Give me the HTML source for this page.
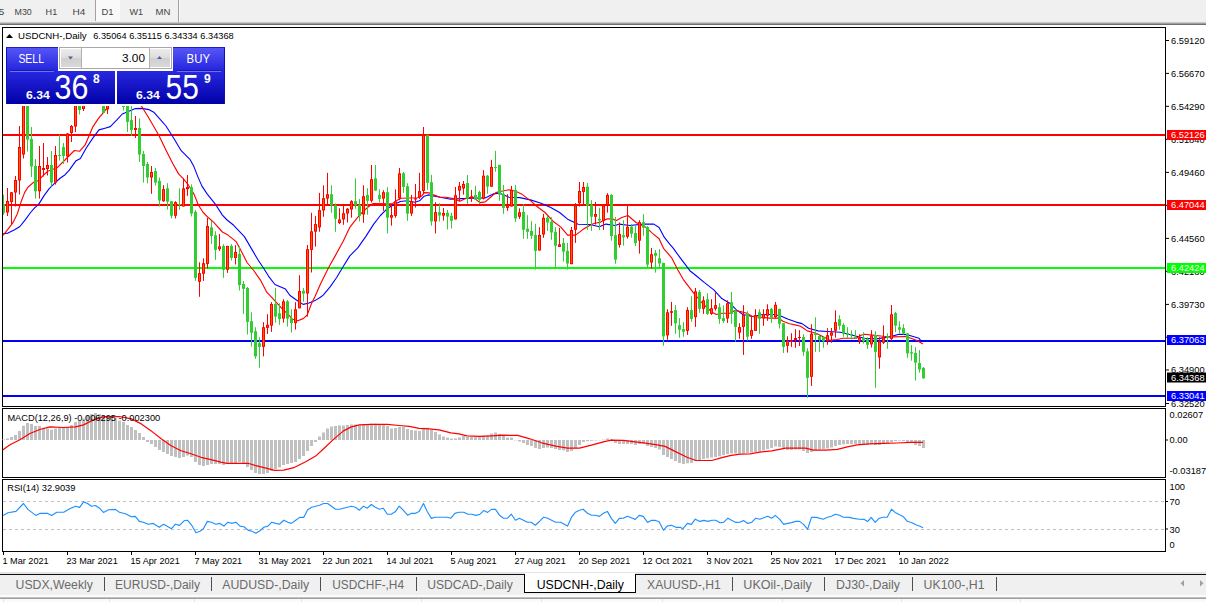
<!DOCTYPE html>
<html><head><meta charset="utf-8"><title>USDCNH-,Daily</title>
<style>html,body{margin:0;padding:0;background:#fff;overflow:hidden}svg text{white-space:pre}</style>
</head><body>
<svg width="1206" height="602" viewBox="0 0 1206 602" style="display:block">
<defs>
<linearGradient id="gTop" x1="0" y1="0" x2="0" y2="1"><stop offset="0" stop-color="#5858f8"/><stop offset="1" stop-color="#2222dc"/></linearGradient>
<linearGradient id="gBot" x1="0" y1="0" x2="0" y2="1"><stop offset="0" stop-color="#2828e0"/><stop offset="1" stop-color="#0000a8"/></linearGradient>
<linearGradient id="gBtn" x1="0" y1="0" x2="0" y2="1"><stop offset="0" stop-color="#ececec"/><stop offset="0.5" stop-color="#dcdcdc"/><stop offset="0.5" stop-color="#cfcfcf"/><stop offset="1" stop-color="#d8d8d8"/></linearGradient>
<clipPath id="cMain"><rect x="3" y="28" width="1162" height="378"/></clipPath>
</defs>
<rect width="1206" height="602" fill="#ffffff"/>
<rect x="0" y="0" width="1206" height="22" fill="#f0f0f0"/>
<rect x="0" y="22" width="1206" height="1" fill="#c8c8c8"/>
<rect x="0" y="23" width="1206" height="1" fill="#a0a0a0"/>
<rect x="0" y="24" width="1206" height="1" fill="#707070"/>
<rect x="96" y="0" width="24" height="21" fill="#f9f9f9"/>
<rect x="95" y="0" width="1" height="21" fill="#a0a0a0"/>
<rect x="178" y="0" width="1" height="22" fill="#a0a0a0"/><rect x="179" y="0" width="1" height="22" fill="#fafafa"/>
<text x="-1.5" y="14.7" font-family="Liberation Sans, sans-serif" font-size="9.8" fill="#444444" textLength="5.8" lengthAdjust="spacingAndGlyphs">5</text>
<text x="14.6" y="14.7" font-family="Liberation Sans, sans-serif" font-size="9.8" fill="#444444" textLength="17.2" lengthAdjust="spacingAndGlyphs">M30</text>
<text x="45.6" y="14.7" font-family="Liberation Sans, sans-serif" font-size="9.8" fill="#444444" textLength="11.6" lengthAdjust="spacingAndGlyphs">H1</text>
<text x="72.6" y="14.7" font-family="Liberation Sans, sans-serif" font-size="9.8" fill="#444444" textLength="12.8" lengthAdjust="spacingAndGlyphs">H4</text>
<text x="101.5" y="14.7" font-family="Liberation Sans, sans-serif" font-size="9.8" fill="#444444" textLength="12.1" lengthAdjust="spacingAndGlyphs">D1</text>
<text x="129.4" y="14.7" font-family="Liberation Sans, sans-serif" font-size="9.8" fill="#444444" textLength="13.6" lengthAdjust="spacingAndGlyphs">W1</text>
<text x="155.6" y="14.7" font-family="Liberation Sans, sans-serif" font-size="9.8" fill="#444444" textLength="14.9" lengthAdjust="spacingAndGlyphs">MN</text>
<g clip-path="url(#cMain)">
<rect x="3" y="134" width="1163" height="2" fill="#ff0000"/>
<rect x="3" y="204" width="1163" height="2" fill="#ff0000"/>
<rect x="3" y="267" width="1163" height="2" fill="#00ff00"/>
<rect x="3" y="340" width="1163" height="2" fill="#0000ff"/>
<rect x="3" y="395" width="1163" height="2" fill="#0000ff"/>
<polyline points="3.0,233.8 8.0,233.1 14.6,229.8 19.9,226.5 25.2,219.8 30.6,212.5 34.6,207.9 38.5,204.6 43.9,195.9 49.2,188.6 54.5,183.3 59.8,178.5 65.1,174.7 69.1,170.4 75.7,161.1 80.4,158.5 86.4,147.8 93.0,137.9 99.0,129.9 105.0,128.2 110.3,126.6 116.9,119.9 122.3,114.0 128.9,111.3 135.5,108.6 142.2,108.4 148.8,109.6 154.2,112.6 159.5,118.6 166.0,126.0 173.0,137.0 181.2,150.7 189.9,159.3 193.9,166.6 197.8,176.6 201.8,185.9 207.1,193.9 215.1,203.8 222.4,215.1 227.1,220.0 233.7,225.3 244.4,236.6 251.0,247.9 257.6,259.2 264.3,269.2 268.3,275.8 274.9,284.5 285.5,289.1 289.8,295.3 296.4,300.0 303.1,304.4 308.4,303.3 315.0,300.6 320.4,297.3 323.2,295.1 329.9,287.1 336.5,277.8 343.2,266.5 349.8,255.9 357.8,247.9 365.7,236.6 373.7,224.1 380.4,215.5 387.0,208.8 393.7,204.8 400.3,201.5 406.9,200.8 414.9,202.2 419.6,200.8 424.2,196.2 428.2,194.9 433.5,195.9 440.2,197.3 450.6,199.2 461.3,198.6 473.2,198.2 485.2,197.9 493.2,193.9 499.8,193.3 509.1,197.2 519.7,197.6 530.4,199.9 541.0,203.2 550.3,207.2 559.6,212.5 567.6,219.2 578.2,224.2 590.2,224.5 599.3,226.8 605.9,224.1 615.2,225.5 619.2,224.1 629.9,225.5 643.2,224.1 653.8,224.1 659.1,227.5 664.4,237.4 669.7,244.1 672.8,247.6 679.5,256.9 689.9,270.7 696.5,276.0 704.5,282.6 713.8,289.9 721.8,298.6 729.7,303.2 736.4,309.9 743.0,314.5 752.3,316.5 763.0,314.5 773.6,314.5 780.2,315.8 788.2,319.2 796.2,322.1 802.0,323.6 808.6,328.2 817.9,330.9 827.2,331.5 840.5,332.2 848.5,334.2 856.4,336.2 864.4,338.2 876.4,338.9 889.7,336.9 899.0,334.2 906.9,334.6 912.3,336.2 918.9,338.2 920.9,340.8" fill="none" stroke="#0000ff" stroke-width="1.1" stroke-linejoin="round"/>
<polyline points="3.0,235.4 8.0,229.1 12.6,223.2 17.3,213.9 21.3,201.2 24.6,192.6 27.9,187.3 33.2,182.6 38.5,180.5 43.9,174.7 47.8,171.3 57.1,167.8 66.4,158.5 74.4,150.5 79.7,151.2 85.0,145.2 93.0,126.6 98.3,118.6 104.5,111.3 108.0,106.3 112.0,101.0 125.0,96.0 135.0,100.0 141.5,106.0 150.0,120.0 158.8,135.2 165.9,150.0 172.6,163.3 178.6,173.9 183.2,178.6 188.5,185.2 193.9,193.9 198.5,205.2 203.2,212.5 208.5,217.8 213.8,222.4 216.4,225.3 222.4,232.0 227.1,234.4 232.4,238.6 236.4,241.9 241.7,251.9 247.0,262.5 253.7,270.5 260.3,279.8 266.9,292.4 269.9,295.3 276.5,302.6 283.2,309.9 288.5,314.6 292.5,319.2 297.8,320.8 303.1,318.6 307.1,315.2 311.1,304.6 315.0,296.6 320.6,283.8 328.5,267.8 335.2,255.9 343.2,241.3 349.8,227.3 356.4,218.8 362.4,212.1 368.4,206.8 373.1,203.5 392.3,203.9 396.3,200.8 401.0,198.2 417.6,197.8 421.6,196.2 424.2,192.6 429.5,192.9 433.5,194.9 440.2,197.3 446.0,197.2 453.3,198.6 459.9,201.2 466.6,197.9 473.2,197.2 479.9,202.6 485.2,201.9 490.5,197.2 495.8,192.6 502.5,191.0 509.1,189.7 515.7,191.3 522.4,194.6 530.4,200.6 537.0,206.5 545.0,212.5 553.0,221.2 560.9,227.1 567.6,235.1 575.5,235.1 583.5,229.1 591.5,224.5 594.0,223.5 600.6,222.1 607.3,218.8 612.6,218.8 615.9,220.8 621.9,217.5 627.9,215.5 632.5,219.5 636.5,222.8 645.8,227.2 652.5,233.4 659.1,238.8 663.5,248.3 671.5,257.6 677.9,270.0 683.2,279.3 693.9,293.3 703.0,304.0 712.5,312.5 716.4,314.5 721.8,313.2 729.7,313.2 735.0,310.5 741.7,311.9 747.0,313.2 752.3,316.5 760.3,317.2 769.6,318.1 778.9,318.1 782.9,321.2 789.5,323.8 796.2,325.1 800.6,326.2 807.3,330.9 816.6,333.5 824.6,337.5 829.9,340.2 837.2,339.5 843.2,338.2 856.4,338.2 860.4,335.5 864.4,334.2 872.4,335.1 883.0,336.2 893.7,336.9 905.6,336.5 910.9,338.2 917.6,340.8 922.9,343.9" fill="none" stroke="#ff0000" stroke-width="1.15" stroke-linejoin="round"/>
<rect x="3" y="194.6" width="1" height="20.4" fill="#32cd32"/>
<rect x="2" y="204.0" width="3" height="9.0" fill="#32cd32"/>
<rect x="7" y="188.0" width="1" height="28.0" fill="#ff0000"/>
<rect x="6" y="201.0" width="3" height="11.5" fill="#ff0000"/>
<rect x="7" y="202.0" width="1" height="9.5" fill="#ff5a00"/>
<rect x="11" y="192.0" width="1" height="32.0" fill="#ff0000"/>
<rect x="10" y="192.3" width="3" height="9.7" fill="#ff0000"/>
<rect x="11" y="193.3" width="1" height="7.7" fill="#ff5a00"/>
<rect x="15" y="176.0" width="1" height="30.5" fill="#ff0000"/>
<rect x="14" y="180.0" width="3" height="12.5" fill="#ff0000"/>
<rect x="15" y="181.0" width="1" height="10.5" fill="#ff5a00"/>
<rect x="19" y="126.0" width="1" height="68.5" fill="#ff0000"/>
<rect x="18" y="147.0" width="3" height="33.5" fill="#ff0000"/>
<rect x="19" y="148.0" width="1" height="31.5" fill="#ff5a00"/>
<rect x="23" y="96.0" width="1" height="62.5" fill="#ff0000"/>
<rect x="22" y="100.0" width="3" height="54.5" fill="#ff0000"/>
<rect x="23" y="101.0" width="1" height="52.5" fill="#ff5a00"/>
<rect x="27" y="96.0" width="1" height="55.5" fill="#32cd32"/>
<rect x="26" y="100.0" width="3" height="39.5" fill="#32cd32"/>
<rect x="31" y="127.0" width="1" height="50.0" fill="#32cd32"/>
<rect x="30" y="139.0" width="3" height="27.5" fill="#32cd32"/>
<rect x="35" y="159.0" width="1" height="39.6" fill="#32cd32"/>
<rect x="34" y="166.0" width="3" height="25.3" fill="#32cd32"/>
<rect x="39" y="146.0" width="1" height="52.6" fill="#ff0000"/>
<rect x="38" y="166.0" width="3" height="25.3" fill="#ff0000"/>
<rect x="39" y="167.0" width="1" height="23.3" fill="#ff5a00"/>
<rect x="43" y="143.0" width="1" height="33.5" fill="#ff0000"/>
<rect x="42" y="168.0" width="3" height="2.0" fill="#ff0000"/>
<rect x="47" y="157.0" width="1" height="18.5" fill="#ff0000"/>
<rect x="46" y="165.0" width="3" height="4.0" fill="#ff0000"/>
<rect x="47" y="166.0" width="1" height="2.0" fill="#ff5a00"/>
<rect x="51" y="151.0" width="1" height="35.6" fill="#32cd32"/>
<rect x="50" y="165.0" width="3" height="17.6" fill="#32cd32"/>
<rect x="55" y="146.0" width="1" height="38.6" fill="#ff0000"/>
<rect x="54" y="155.0" width="3" height="27.6" fill="#ff0000"/>
<rect x="55" y="156.0" width="1" height="25.6" fill="#ff5a00"/>
<rect x="59" y="135.0" width="1" height="25.5" fill="#32cd32"/>
<rect x="58" y="155.0" width="3" height="1.0" fill="#32cd32"/>
<rect x="63" y="143.0" width="1" height="21.0" fill="#32cd32"/>
<rect x="62" y="147.0" width="3" height="9.0" fill="#32cd32"/>
<rect x="67" y="133.0" width="1" height="29.5" fill="#ff0000"/>
<rect x="66" y="133.5" width="3" height="23.0" fill="#ff0000"/>
<rect x="67" y="134.5" width="1" height="21.0" fill="#ff5a00"/>
<rect x="71" y="125.0" width="1" height="17.0" fill="#ff0000"/>
<rect x="70" y="126.0" width="3" height="7.0" fill="#ff0000"/>
<rect x="71" y="127.0" width="1" height="5.0" fill="#ff5a00"/>
<rect x="75" y="100.0" width="1" height="32.0" fill="#ff0000"/>
<rect x="74" y="104.0" width="3" height="22.5" fill="#ff0000"/>
<rect x="75" y="105.0" width="1" height="20.5" fill="#ff5a00"/>
<rect x="79" y="95.0" width="1" height="19.5" fill="#32cd32"/>
<rect x="78" y="98.0" width="3" height="12.0" fill="#32cd32"/>
<rect x="83" y="92.0" width="1" height="19.0" fill="#ff0000"/>
<rect x="82" y="96.0" width="3" height="13.0" fill="#ff0000"/>
<rect x="83" y="97.0" width="1" height="11.0" fill="#ff5a00"/>
<rect x="87" y="80.0" width="1" height="20.0" fill="#ff0000"/>
<rect x="86" y="84.0" width="3" height="14.0" fill="#ff0000"/>
<rect x="87" y="85.0" width="1" height="12.0" fill="#ff5a00"/>
<rect x="91" y="70.0" width="1" height="20.0" fill="#ff0000"/>
<rect x="90" y="74.0" width="3" height="12.0" fill="#ff0000"/>
<rect x="91" y="75.0" width="1" height="10.0" fill="#ff5a00"/>
<rect x="95" y="70.0" width="1" height="18.0" fill="#32cd32"/>
<rect x="94" y="74.0" width="3" height="10.0" fill="#32cd32"/>
<rect x="99" y="66.0" width="1" height="26.0" fill="#ff0000"/>
<rect x="98" y="70.0" width="3" height="14.0" fill="#ff0000"/>
<rect x="99" y="71.0" width="1" height="12.0" fill="#ff5a00"/>
<rect x="103" y="66.0" width="1" height="47.0" fill="#32cd32"/>
<rect x="102" y="70.0" width="3" height="43.0" fill="#32cd32"/>
<rect x="107" y="90.0" width="1" height="24.0" fill="#ff0000"/>
<rect x="106" y="95.0" width="3" height="14.5" fill="#ff0000"/>
<rect x="107" y="96.0" width="1" height="12.5" fill="#ff5a00"/>
<rect x="111" y="80.0" width="1" height="20.0" fill="#ff0000"/>
<rect x="110" y="84.0" width="3" height="12.0" fill="#ff0000"/>
<rect x="111" y="85.0" width="1" height="10.0" fill="#ff5a00"/>
<rect x="115" y="78.0" width="1" height="24.0" fill="#32cd32"/>
<rect x="114" y="84.0" width="3" height="14.0" fill="#32cd32"/>
<rect x="119" y="90.0" width="1" height="14.0" fill="#32cd32"/>
<rect x="118" y="96.0" width="3" height="8.0" fill="#32cd32"/>
<rect x="123" y="96.0" width="1" height="14.5" fill="#32cd32"/>
<rect x="122" y="106.0" width="3" height="1.0" fill="#32cd32"/>
<rect x="127" y="96.0" width="1" height="36.0" fill="#32cd32"/>
<rect x="126" y="100.0" width="3" height="22.0" fill="#32cd32"/>
<rect x="131" y="100.0" width="1" height="36.0" fill="#32cd32"/>
<rect x="130" y="120.0" width="3" height="10.0" fill="#32cd32"/>
<rect x="135" y="116.0" width="1" height="22.0" fill="#ff0000"/>
<rect x="134" y="128.0" width="3" height="2.0" fill="#ff0000"/>
<rect x="139" y="118.5" width="1" height="43.5" fill="#32cd32"/>
<rect x="138" y="128.0" width="3" height="26.5" fill="#32cd32"/>
<rect x="143" y="151.0" width="1" height="31.6" fill="#32cd32"/>
<rect x="142" y="154.0" width="3" height="12.0" fill="#32cd32"/>
<rect x="147" y="162.0" width="1" height="21.3" fill="#32cd32"/>
<rect x="146" y="164.0" width="3" height="13.5" fill="#32cd32"/>
<rect x="151" y="166.0" width="1" height="27.8" fill="#ff0000"/>
<rect x="150" y="172.0" width="3" height="5.5" fill="#ff0000"/>
<rect x="151" y="173.0" width="1" height="3.5" fill="#ff5a00"/>
<rect x="155" y="168.0" width="1" height="17.5" fill="#32cd32"/>
<rect x="154" y="171.0" width="3" height="11.6" fill="#32cd32"/>
<rect x="159" y="177.5" width="1" height="29.0" fill="#32cd32"/>
<rect x="158" y="180.8" width="3" height="19.7" fill="#32cd32"/>
<rect x="163" y="185.2" width="1" height="16.6" fill="#ff0000"/>
<rect x="162" y="189.2" width="3" height="12.0" fill="#ff0000"/>
<rect x="163" y="190.2" width="1" height="10.0" fill="#ff5a00"/>
<rect x="167" y="183.2" width="1" height="26.3" fill="#32cd32"/>
<rect x="166" y="188.3" width="3" height="13.3" fill="#32cd32"/>
<rect x="171" y="201.2" width="1" height="17.2" fill="#32cd32"/>
<rect x="170" y="201.2" width="3" height="14.6" fill="#32cd32"/>
<rect x="175" y="201.2" width="1" height="17.2" fill="#ff0000"/>
<rect x="174" y="202.1" width="3" height="13.7" fill="#ff0000"/>
<rect x="175" y="203.1" width="1" height="11.7" fill="#ff5a00"/>
<rect x="179" y="188.3" width="1" height="21.5" fill="#32cd32"/>
<rect x="178" y="204.0" width="3" height="1.0" fill="#32cd32"/>
<rect x="183" y="178.2" width="1" height="28.3" fill="#ff0000"/>
<rect x="182" y="188.3" width="3" height="18.2" fill="#ff0000"/>
<rect x="183" y="189.3" width="1" height="16.2" fill="#ff5a00"/>
<rect x="187" y="175.0" width="1" height="20.8" fill="#ff0000"/>
<rect x="186" y="187.0" width="3" height="2.2" fill="#ff0000"/>
<rect x="191" y="184.3" width="1" height="32.1" fill="#32cd32"/>
<rect x="190" y="187.2" width="3" height="26.3" fill="#32cd32"/>
<rect x="195" y="210.0" width="1" height="70.9" fill="#32cd32"/>
<rect x="194" y="211.8" width="3" height="66.0" fill="#32cd32"/>
<rect x="199" y="262.3" width="1" height="34.5" fill="#ff0000"/>
<rect x="198" y="273.2" width="3" height="8.6" fill="#ff0000"/>
<rect x="199" y="274.2" width="1" height="6.6" fill="#ff5a00"/>
<rect x="203" y="258.3" width="1" height="22.6" fill="#ff0000"/>
<rect x="202" y="263.2" width="3" height="10.6" fill="#ff0000"/>
<rect x="203" y="264.2" width="1" height="8.6" fill="#ff5a00"/>
<rect x="207" y="217.8" width="1" height="50.7" fill="#ff0000"/>
<rect x="206" y="226.0" width="3" height="37.9" fill="#ff0000"/>
<rect x="207" y="227.0" width="1" height="35.9" fill="#ff5a00"/>
<rect x="211" y="221.0" width="1" height="22.9" fill="#32cd32"/>
<rect x="210" y="227.3" width="3" height="8.7" fill="#32cd32"/>
<rect x="215" y="231.3" width="1" height="28.6" fill="#32cd32"/>
<rect x="214" y="235.3" width="3" height="14.6" fill="#32cd32"/>
<rect x="219" y="234.0" width="1" height="16.8" fill="#ff0000"/>
<rect x="218" y="246.3" width="3" height="2.9" fill="#ff0000"/>
<rect x="219" y="247.3" width="1" height="0.9" fill="#ff5a00"/>
<rect x="223" y="244.2" width="1" height="33.6" fill="#32cd32"/>
<rect x="222" y="245.9" width="3" height="23.9" fill="#32cd32"/>
<rect x="227" y="245.9" width="1" height="27.0" fill="#ff0000"/>
<rect x="226" y="245.9" width="3" height="23.9" fill="#ff0000"/>
<rect x="227" y="246.9" width="1" height="21.9" fill="#ff5a00"/>
<rect x="231" y="244.2" width="1" height="16.3" fill="#32cd32"/>
<rect x="230" y="245.9" width="3" height="12.0" fill="#32cd32"/>
<rect x="235" y="245.2" width="1" height="19.3" fill="#ff0000"/>
<rect x="234" y="251.9" width="3" height="6.0" fill="#ff0000"/>
<rect x="235" y="252.9" width="1" height="4.0" fill="#ff5a00"/>
<rect x="239" y="246.3" width="1" height="44.2" fill="#32cd32"/>
<rect x="238" y="253.9" width="3" height="31.2" fill="#32cd32"/>
<rect x="243" y="281.1" width="1" height="32.8" fill="#32cd32"/>
<rect x="242" y="284.0" width="3" height="4.8" fill="#32cd32"/>
<rect x="247" y="287.0" width="1" height="47.5" fill="#32cd32"/>
<rect x="246" y="288.0" width="3" height="33.9" fill="#32cd32"/>
<rect x="251" y="312.3" width="1" height="34.2" fill="#32cd32"/>
<rect x="250" y="321.2" width="3" height="11.6" fill="#32cd32"/>
<rect x="255" y="327.2" width="1" height="31.6" fill="#32cd32"/>
<rect x="254" y="331.2" width="3" height="25.2" fill="#32cd32"/>
<rect x="259" y="337.2" width="1" height="30.5" fill="#32cd32"/>
<rect x="258" y="343.2" width="3" height="3.7" fill="#32cd32"/>
<rect x="263" y="322.2" width="1" height="34.2" fill="#ff0000"/>
<rect x="262" y="327.2" width="3" height="19.7" fill="#ff0000"/>
<rect x="263" y="328.2" width="1" height="17.7" fill="#ff5a00"/>
<rect x="267" y="314.2" width="1" height="19.7" fill="#ff0000"/>
<rect x="266" y="324.8" width="3" height="3.1" fill="#ff0000"/>
<rect x="267" y="325.8" width="1" height="1.1" fill="#ff5a00"/>
<rect x="271" y="302.2" width="1" height="29.7" fill="#ff0000"/>
<rect x="270" y="304.0" width="3" height="21.6" fill="#ff0000"/>
<rect x="271" y="305.0" width="1" height="19.6" fill="#ff5a00"/>
<rect x="275" y="288.0" width="1" height="34.6" fill="#32cd32"/>
<rect x="274" y="304.0" width="3" height="12.6" fill="#32cd32"/>
<rect x="279" y="303.3" width="1" height="21.5" fill="#32cd32"/>
<rect x="278" y="313.3" width="3" height="5.7" fill="#32cd32"/>
<rect x="283" y="299.3" width="1" height="23.3" fill="#ff0000"/>
<rect x="282" y="301.3" width="3" height="17.3" fill="#ff0000"/>
<rect x="283" y="302.3" width="1" height="15.3" fill="#ff5a00"/>
<rect x="287" y="300.0" width="1" height="26.5" fill="#32cd32"/>
<rect x="286" y="301.3" width="3" height="17.3" fill="#32cd32"/>
<rect x="291" y="309.3" width="1" height="23.2" fill="#32cd32"/>
<rect x="290" y="318.2" width="3" height="4.8" fill="#32cd32"/>
<rect x="295" y="302.2" width="1" height="27.4" fill="#ff0000"/>
<rect x="294" y="309.3" width="3" height="13.9" fill="#ff0000"/>
<rect x="295" y="310.3" width="1" height="11.9" fill="#ff5a00"/>
<rect x="299" y="275.2" width="1" height="33.1" fill="#ff0000"/>
<rect x="298" y="291.1" width="3" height="17.2" fill="#ff0000"/>
<rect x="299" y="292.1" width="1" height="15.2" fill="#ff5a00"/>
<rect x="303" y="288.0" width="1" height="13.7" fill="#32cd32"/>
<rect x="302" y="290.7" width="3" height="3.0" fill="#32cd32"/>
<rect x="307" y="245.0" width="1" height="71.6" fill="#ff0000"/>
<rect x="306" y="249.2" width="3" height="44.3" fill="#ff0000"/>
<rect x="307" y="250.2" width="1" height="42.3" fill="#ff5a00"/>
<rect x="311" y="212.8" width="1" height="59.7" fill="#ff0000"/>
<rect x="310" y="231.3" width="3" height="18.6" fill="#ff0000"/>
<rect x="311" y="232.3" width="1" height="16.6" fill="#ff5a00"/>
<rect x="315" y="216.1" width="1" height="30.5" fill="#ff0000"/>
<rect x="314" y="224.1" width="3" height="7.6" fill="#ff0000"/>
<rect x="315" y="225.1" width="1" height="5.6" fill="#ff5a00"/>
<rect x="319" y="192.9" width="1" height="38.8" fill="#ff0000"/>
<rect x="318" y="210.1" width="3" height="17.3" fill="#ff0000"/>
<rect x="319" y="211.1" width="1" height="15.3" fill="#ff5a00"/>
<rect x="323" y="185.3" width="1" height="31.5" fill="#ff0000"/>
<rect x="322" y="198.2" width="3" height="12.3" fill="#ff0000"/>
<rect x="323" y="199.2" width="1" height="10.3" fill="#ff5a00"/>
<rect x="327" y="172.9" width="1" height="31.9" fill="#ff0000"/>
<rect x="326" y="194.2" width="3" height="4.4" fill="#ff0000"/>
<rect x="327" y="195.2" width="1" height="2.4" fill="#ff5a00"/>
<rect x="331" y="185.3" width="1" height="27.5" fill="#32cd32"/>
<rect x="330" y="194.2" width="3" height="11.3" fill="#32cd32"/>
<rect x="335" y="203.5" width="1" height="28.3" fill="#32cd32"/>
<rect x="334" y="205.2" width="3" height="13.6" fill="#32cd32"/>
<rect x="339" y="208.2" width="1" height="15.9" fill="#ff0000"/>
<rect x="338" y="219.5" width="3" height="3.5" fill="#ff0000"/>
<rect x="339" y="220.5" width="1" height="1.5" fill="#ff5a00"/>
<rect x="343" y="205.5" width="1" height="19.3" fill="#ff0000"/>
<rect x="342" y="213.2" width="3" height="6.3" fill="#ff0000"/>
<rect x="343" y="214.2" width="1" height="4.3" fill="#ff5a00"/>
<rect x="347" y="207.9" width="1" height="14.6" fill="#ff0000"/>
<rect x="346" y="208.8" width="3" height="4.7" fill="#ff0000"/>
<rect x="347" y="209.8" width="1" height="2.7" fill="#ff5a00"/>
<rect x="351" y="200.2" width="1" height="17.5" fill="#ff0000"/>
<rect x="350" y="201.2" width="3" height="8.3" fill="#ff0000"/>
<rect x="351" y="202.2" width="1" height="6.3" fill="#ff5a00"/>
<rect x="355" y="178.3" width="1" height="30.5" fill="#32cd32"/>
<rect x="354" y="201.2" width="3" height="4.0" fill="#32cd32"/>
<rect x="359" y="199.1" width="1" height="22.3" fill="#32cd32"/>
<rect x="358" y="204.8" width="3" height="11.1" fill="#32cd32"/>
<rect x="363" y="185.3" width="1" height="37.5" fill="#ff0000"/>
<rect x="362" y="196.2" width="3" height="18.3" fill="#ff0000"/>
<rect x="363" y="197.2" width="1" height="16.3" fill="#ff5a00"/>
<rect x="367" y="188.2" width="1" height="26.6" fill="#32cd32"/>
<rect x="366" y="194.9" width="3" height="5.9" fill="#32cd32"/>
<rect x="371" y="165.0" width="1" height="37.6" fill="#ff0000"/>
<rect x="370" y="179.2" width="3" height="21.6" fill="#ff0000"/>
<rect x="371" y="180.2" width="1" height="19.6" fill="#ff5a00"/>
<rect x="375" y="165.0" width="1" height="25.6" fill="#32cd32"/>
<rect x="374" y="178.3" width="3" height="12.3" fill="#32cd32"/>
<rect x="379" y="189.3" width="1" height="13.3" fill="#32cd32"/>
<rect x="378" y="194.9" width="3" height="4.0" fill="#32cd32"/>
<rect x="383" y="190.2" width="1" height="20.6" fill="#ff0000"/>
<rect x="382" y="192.2" width="3" height="6.4" fill="#ff0000"/>
<rect x="383" y="193.2" width="1" height="4.4" fill="#ff5a00"/>
<rect x="387" y="187.2" width="1" height="46.2" fill="#32cd32"/>
<rect x="386" y="192.2" width="3" height="25.5" fill="#32cd32"/>
<rect x="391" y="204.8" width="1" height="20.9" fill="#ff0000"/>
<rect x="390" y="215.1" width="3" height="2.6" fill="#ff0000"/>
<rect x="391" y="216.1" width="1" height="0.6" fill="#ff5a00"/>
<rect x="395" y="189.3" width="1" height="28.4" fill="#ff0000"/>
<rect x="394" y="201.5" width="3" height="14.4" fill="#ff0000"/>
<rect x="395" y="202.5" width="1" height="12.4" fill="#ff5a00"/>
<rect x="399" y="168.0" width="1" height="32.2" fill="#ff0000"/>
<rect x="398" y="173.3" width="3" height="24.9" fill="#ff0000"/>
<rect x="399" y="174.3" width="1" height="22.9" fill="#ff5a00"/>
<rect x="403" y="172.0" width="1" height="20.9" fill="#32cd32"/>
<rect x="402" y="173.3" width="3" height="13.6" fill="#32cd32"/>
<rect x="407" y="183.2" width="1" height="37.6" fill="#32cd32"/>
<rect x="406" y="186.2" width="3" height="27.5" fill="#32cd32"/>
<rect x="411" y="194.9" width="1" height="21.0" fill="#ff0000"/>
<rect x="410" y="201.2" width="3" height="12.3" fill="#ff0000"/>
<rect x="411" y="202.2" width="1" height="10.3" fill="#ff5a00"/>
<rect x="415" y="184.0" width="1" height="23.5" fill="#ff0000"/>
<rect x="414" y="198.2" width="3" height="1.3" fill="#ff0000"/>
<rect x="419" y="172.9" width="1" height="26.0" fill="#ff0000"/>
<rect x="418" y="191.1" width="3" height="6.4" fill="#ff0000"/>
<rect x="419" y="192.1" width="1" height="4.4" fill="#ff5a00"/>
<rect x="423" y="127.0" width="1" height="67.2" fill="#ff0000"/>
<rect x="422" y="135.2" width="3" height="55.7" fill="#ff0000"/>
<rect x="423" y="136.2" width="1" height="53.7" fill="#ff5a00"/>
<rect x="427" y="134.6" width="1" height="55.2" fill="#32cd32"/>
<rect x="426" y="135.2" width="3" height="47.6" fill="#32cd32"/>
<rect x="431" y="174.9" width="1" height="50.8" fill="#32cd32"/>
<rect x="430" y="182.2" width="3" height="39.2" fill="#32cd32"/>
<rect x="435" y="202.2" width="1" height="31.2" fill="#ff0000"/>
<rect x="434" y="212.1" width="3" height="9.3" fill="#ff0000"/>
<rect x="435" y="213.1" width="1" height="7.3" fill="#ff5a00"/>
<rect x="439" y="203.1" width="1" height="18.3" fill="#32cd32"/>
<rect x="438" y="212.1" width="3" height="3.4" fill="#32cd32"/>
<rect x="443" y="208.0" width="1" height="12.6" fill="#ff0000"/>
<rect x="442" y="213.0" width="3" height="2.7" fill="#ff0000"/>
<rect x="443" y="214.0" width="1" height="0.7" fill="#ff5a00"/>
<rect x="447" y="209.8" width="1" height="19.6" fill="#32cd32"/>
<rect x="446" y="212.8" width="3" height="3.8" fill="#32cd32"/>
<rect x="451" y="212.8" width="1" height="15.7" fill="#32cd32"/>
<rect x="450" y="215.8" width="3" height="5.0" fill="#32cd32"/>
<rect x="455" y="187.0" width="1" height="32.4" fill="#ff0000"/>
<rect x="454" y="195.2" width="3" height="24.2" fill="#ff0000"/>
<rect x="455" y="196.2" width="1" height="22.2" fill="#ff5a00"/>
<rect x="459" y="182.0" width="1" height="19.2" fill="#ff0000"/>
<rect x="458" y="185.9" width="3" height="4.7" fill="#ff0000"/>
<rect x="459" y="186.9" width="1" height="2.7" fill="#ff5a00"/>
<rect x="463" y="181.0" width="1" height="13.6" fill="#ff0000"/>
<rect x="462" y="184.0" width="3" height="4.5" fill="#ff0000"/>
<rect x="463" y="185.0" width="1" height="2.5" fill="#ff5a00"/>
<rect x="467" y="175.0" width="1" height="28.9" fill="#32cd32"/>
<rect x="466" y="183.0" width="3" height="15.6" fill="#32cd32"/>
<rect x="471" y="189.9" width="1" height="12.0" fill="#ff0000"/>
<rect x="470" y="196.3" width="3" height="1.9" fill="#ff0000"/>
<rect x="475" y="185.9" width="1" height="13.6" fill="#32cd32"/>
<rect x="474" y="195.0" width="3" height="4.5" fill="#32cd32"/>
<rect x="479" y="190.6" width="1" height="13.3" fill="#32cd32"/>
<rect x="478" y="191.9" width="3" height="8.0" fill="#32cd32"/>
<rect x="483" y="170.1" width="1" height="29.4" fill="#ff0000"/>
<rect x="482" y="175.7" width="3" height="22.9" fill="#ff0000"/>
<rect x="483" y="176.7" width="1" height="20.9" fill="#ff5a00"/>
<rect x="487" y="174.9" width="1" height="18.8" fill="#32cd32"/>
<rect x="486" y="175.7" width="3" height="11.0" fill="#32cd32"/>
<rect x="491" y="159.8" width="1" height="26.9" fill="#ff0000"/>
<rect x="490" y="166.9" width="3" height="19.8" fill="#ff0000"/>
<rect x="491" y="167.9" width="1" height="17.8" fill="#ff5a00"/>
<rect x="495" y="150.9" width="1" height="20.9" fill="#32cd32"/>
<rect x="494" y="167.0" width="3" height="1.0" fill="#32cd32"/>
<rect x="499" y="164.8" width="1" height="36.0" fill="#32cd32"/>
<rect x="498" y="164.8" width="3" height="29.8" fill="#32cd32"/>
<rect x="503" y="184.9" width="1" height="29.0" fill="#32cd32"/>
<rect x="502" y="193.9" width="3" height="14.0" fill="#32cd32"/>
<rect x="507" y="194.2" width="1" height="16.7" fill="#ff0000"/>
<rect x="506" y="205.2" width="3" height="2.7" fill="#ff0000"/>
<rect x="507" y="206.2" width="1" height="0.7" fill="#ff5a00"/>
<rect x="511" y="185.9" width="1" height="20.6" fill="#ff0000"/>
<rect x="510" y="189.9" width="3" height="16.6" fill="#ff0000"/>
<rect x="511" y="190.9" width="1" height="14.6" fill="#ff5a00"/>
<rect x="515" y="184.9" width="1" height="36.9" fill="#32cd32"/>
<rect x="514" y="189.9" width="3" height="28.6" fill="#32cd32"/>
<rect x="519" y="208.3" width="1" height="10.6" fill="#ff0000"/>
<rect x="518" y="212.3" width="3" height="4.5" fill="#ff0000"/>
<rect x="519" y="213.3" width="1" height="2.5" fill="#ff5a00"/>
<rect x="523" y="204.3" width="1" height="34.5" fill="#32cd32"/>
<rect x="522" y="211.9" width="3" height="17.9" fill="#32cd32"/>
<rect x="527" y="215.2" width="1" height="23.6" fill="#32cd32"/>
<rect x="526" y="228.7" width="3" height="3.1" fill="#32cd32"/>
<rect x="531" y="221.2" width="1" height="17.6" fill="#32cd32"/>
<rect x="530" y="230.9" width="3" height="4.9" fill="#32cd32"/>
<rect x="535" y="223.8" width="1" height="45.7" fill="#32cd32"/>
<rect x="534" y="234.9" width="3" height="16.0" fill="#32cd32"/>
<rect x="539" y="227.1" width="1" height="23.4" fill="#ff0000"/>
<rect x="538" y="234.9" width="3" height="15.6" fill="#ff0000"/>
<rect x="539" y="235.9" width="1" height="13.6" fill="#ff5a00"/>
<rect x="543" y="213.9" width="1" height="23.9" fill="#ff0000"/>
<rect x="542" y="217.8" width="3" height="16.7" fill="#ff0000"/>
<rect x="543" y="218.8" width="1" height="14.7" fill="#ff5a00"/>
<rect x="547" y="215.8" width="1" height="15.1" fill="#32cd32"/>
<rect x="546" y="217.8" width="3" height="4.7" fill="#32cd32"/>
<rect x="551" y="217.2" width="1" height="22.6" fill="#32cd32"/>
<rect x="550" y="221.8" width="3" height="10.7" fill="#32cd32"/>
<rect x="555" y="227.1" width="1" height="40.2" fill="#32cd32"/>
<rect x="554" y="231.8" width="3" height="13.9" fill="#32cd32"/>
<rect x="559" y="227.8" width="1" height="19.1" fill="#ff0000"/>
<rect x="558" y="244.3" width="3" height="2.6" fill="#ff0000"/>
<rect x="559" y="245.3" width="1" height="0.6" fill="#ff5a00"/>
<rect x="563" y="238.0" width="1" height="23.5" fill="#32cd32"/>
<rect x="562" y="242.9" width="3" height="8.7" fill="#32cd32"/>
<rect x="567" y="242.9" width="1" height="26.6" fill="#32cd32"/>
<rect x="566" y="250.9" width="3" height="12.6" fill="#32cd32"/>
<rect x="571" y="227.0" width="1" height="37.2" fill="#ff0000"/>
<rect x="570" y="230.0" width="3" height="34.2" fill="#ff0000"/>
<rect x="571" y="231.0" width="1" height="32.2" fill="#ff5a00"/>
<rect x="575" y="203.2" width="1" height="39.7" fill="#ff0000"/>
<rect x="574" y="205.2" width="3" height="24.6" fill="#ff0000"/>
<rect x="575" y="206.2" width="1" height="22.6" fill="#ff5a00"/>
<rect x="579" y="182.0" width="1" height="24.5" fill="#ff0000"/>
<rect x="578" y="191.0" width="3" height="12.2" fill="#ff0000"/>
<rect x="579" y="192.0" width="1" height="10.2" fill="#ff5a00"/>
<rect x="583" y="182.0" width="1" height="22.3" fill="#ff0000"/>
<rect x="582" y="187.0" width="3" height="4.9" fill="#ff0000"/>
<rect x="583" y="188.0" width="1" height="2.9" fill="#ff5a00"/>
<rect x="587" y="183.0" width="1" height="46.8" fill="#32cd32"/>
<rect x="586" y="186.6" width="3" height="19.0" fill="#32cd32"/>
<rect x="591" y="200.2" width="1" height="30.7" fill="#32cd32"/>
<rect x="590" y="204.7" width="3" height="12.0" fill="#32cd32"/>
<rect x="595" y="201.9" width="1" height="22.7" fill="#ff0000"/>
<rect x="594" y="214.0" width="3" height="2.8" fill="#ff0000"/>
<rect x="595" y="215.0" width="1" height="0.8" fill="#ff5a00"/>
<rect x="599" y="207.8" width="1" height="22.1" fill="#32cd32"/>
<rect x="598" y="218.8" width="3" height="1.7" fill="#32cd32"/>
<rect x="603" y="205.5" width="1" height="24.4" fill="#ff0000"/>
<rect x="602" y="205.5" width="3" height="15.3" fill="#ff0000"/>
<rect x="603" y="206.5" width="1" height="13.3" fill="#ff5a00"/>
<rect x="607" y="193.2" width="1" height="19.4" fill="#ff0000"/>
<rect x="606" y="194.9" width="3" height="10.0" fill="#ff0000"/>
<rect x="607" y="195.9" width="1" height="8.0" fill="#ff5a00"/>
<rect x="611" y="194.0" width="1" height="46.7" fill="#32cd32"/>
<rect x="610" y="194.9" width="3" height="41.2" fill="#32cd32"/>
<rect x="615" y="217.1" width="1" height="46.7" fill="#32cd32"/>
<rect x="614" y="235.2" width="3" height="24.4" fill="#32cd32"/>
<rect x="619" y="222.4" width="1" height="25.2" fill="#ff0000"/>
<rect x="618" y="234.1" width="3" height="10.8" fill="#ff0000"/>
<rect x="619" y="235.1" width="1" height="8.8" fill="#ff5a00"/>
<rect x="623" y="220.2" width="1" height="25.4" fill="#32cd32"/>
<rect x="622" y="235.2" width="3" height="2.1" fill="#32cd32"/>
<rect x="627" y="205.5" width="1" height="33.1" fill="#ff0000"/>
<rect x="626" y="226.8" width="3" height="10.0" fill="#ff0000"/>
<rect x="627" y="227.8" width="1" height="8.0" fill="#ff5a00"/>
<rect x="631" y="224.1" width="1" height="13.6" fill="#32cd32"/>
<rect x="630" y="226.6" width="3" height="7.1" fill="#32cd32"/>
<rect x="635" y="226.1" width="1" height="19.9" fill="#32cd32"/>
<rect x="634" y="233.0" width="3" height="10.2" fill="#32cd32"/>
<rect x="639" y="220.2" width="1" height="33.4" fill="#ff0000"/>
<rect x="638" y="222.1" width="3" height="18.6" fill="#ff0000"/>
<rect x="639" y="223.1" width="1" height="16.6" fill="#ff5a00"/>
<rect x="643" y="214.2" width="1" height="21.5" fill="#32cd32"/>
<rect x="642" y="222.1" width="3" height="5.6" fill="#32cd32"/>
<rect x="647" y="226.1" width="1" height="42.5" fill="#32cd32"/>
<rect x="646" y="227.1" width="3" height="37.5" fill="#32cd32"/>
<rect x="651" y="247.9" width="1" height="20.7" fill="#ff0000"/>
<rect x="650" y="254.2" width="3" height="8.3" fill="#ff0000"/>
<rect x="651" y="255.2" width="1" height="6.3" fill="#ff5a00"/>
<rect x="655" y="250.0" width="1" height="22.6" fill="#32cd32"/>
<rect x="654" y="252.9" width="3" height="2.9" fill="#32cd32"/>
<rect x="659" y="249.2" width="1" height="19.0" fill="#32cd32"/>
<rect x="658" y="258.2" width="3" height="5.3" fill="#32cd32"/>
<rect x="663" y="262.9" width="1" height="82.8" fill="#32cd32"/>
<rect x="662" y="262.9" width="3" height="73.5" fill="#32cd32"/>
<rect x="667" y="309.2" width="1" height="30.6" fill="#ff0000"/>
<rect x="666" y="312.3" width="3" height="23.1" fill="#ff0000"/>
<rect x="667" y="313.3" width="1" height="21.1" fill="#ff5a00"/>
<rect x="671" y="301.9" width="1" height="23.9" fill="#ff0000"/>
<rect x="670" y="311.2" width="3" height="1.6" fill="#ff0000"/>
<rect x="675" y="305.2" width="1" height="28.6" fill="#32cd32"/>
<rect x="674" y="310.1" width="3" height="13.3" fill="#32cd32"/>
<rect x="679" y="318.1" width="1" height="19.7" fill="#32cd32"/>
<rect x="678" y="325.1" width="3" height="4.7" fill="#32cd32"/>
<rect x="683" y="322.1" width="1" height="14.6" fill="#32cd32"/>
<rect x="682" y="329.1" width="3" height="2.7" fill="#32cd32"/>
<rect x="687" y="307.2" width="1" height="27.7" fill="#ff0000"/>
<rect x="686" y="309.9" width="3" height="21.0" fill="#ff0000"/>
<rect x="687" y="310.9" width="1" height="19.0" fill="#ff5a00"/>
<rect x="691" y="296.3" width="1" height="25.5" fill="#32cd32"/>
<rect x="690" y="310.1" width="3" height="8.8" fill="#32cd32"/>
<rect x="695" y="287.9" width="1" height="39.0" fill="#ff0000"/>
<rect x="694" y="291.3" width="3" height="25.9" fill="#ff0000"/>
<rect x="695" y="292.3" width="1" height="23.9" fill="#ff5a00"/>
<rect x="699" y="289.9" width="1" height="22.9" fill="#32cd32"/>
<rect x="698" y="291.9" width="3" height="16.9" fill="#32cd32"/>
<rect x="703" y="296.3" width="1" height="17.6" fill="#ff0000"/>
<rect x="702" y="300.3" width="3" height="8.5" fill="#ff0000"/>
<rect x="703" y="301.3" width="1" height="6.5" fill="#ff5a00"/>
<rect x="707" y="293.3" width="1" height="21.6" fill="#32cd32"/>
<rect x="706" y="299.2" width="3" height="14.7" fill="#32cd32"/>
<rect x="711" y="299.2" width="1" height="15.7" fill="#ff0000"/>
<rect x="710" y="308.3" width="3" height="5.6" fill="#ff0000"/>
<rect x="711" y="309.3" width="1" height="3.6" fill="#ff5a00"/>
<rect x="715" y="292.3" width="1" height="18.2" fill="#ff0000"/>
<rect x="714" y="305.2" width="3" height="3.6" fill="#ff0000"/>
<rect x="715" y="306.2" width="1" height="1.6" fill="#ff5a00"/>
<rect x="719" y="303.2" width="1" height="20.6" fill="#32cd32"/>
<rect x="718" y="307.2" width="3" height="11.7" fill="#32cd32"/>
<rect x="723" y="305.2" width="1" height="17.7" fill="#32cd32"/>
<rect x="722" y="318.1" width="3" height="3.1" fill="#32cd32"/>
<rect x="727" y="300.3" width="1" height="22.6" fill="#ff0000"/>
<rect x="726" y="303.2" width="3" height="15.3" fill="#ff0000"/>
<rect x="727" y="304.2" width="1" height="13.3" fill="#ff5a00"/>
<rect x="731" y="291.9" width="1" height="31.9" fill="#32cd32"/>
<rect x="730" y="302.2" width="3" height="11.7" fill="#32cd32"/>
<rect x="735" y="309.2" width="1" height="32.5" fill="#32cd32"/>
<rect x="734" y="310.9" width="3" height="16.0" fill="#32cd32"/>
<rect x="739" y="323.2" width="1" height="15.6" fill="#ff0000"/>
<rect x="738" y="327.1" width="3" height="5.6" fill="#ff0000"/>
<rect x="739" y="328.1" width="1" height="3.6" fill="#ff5a00"/>
<rect x="743" y="305.2" width="1" height="49.7" fill="#ff0000"/>
<rect x="742" y="314.9" width="3" height="12.0" fill="#ff0000"/>
<rect x="743" y="315.9" width="1" height="10.0" fill="#ff5a00"/>
<rect x="747" y="311.2" width="1" height="29.5" fill="#32cd32"/>
<rect x="746" y="314.1" width="3" height="22.6" fill="#32cd32"/>
<rect x="751" y="315.8" width="1" height="23.0" fill="#ff0000"/>
<rect x="750" y="330.1" width="3" height="5.7" fill="#ff0000"/>
<rect x="751" y="331.1" width="1" height="3.7" fill="#ff5a00"/>
<rect x="755" y="309.2" width="1" height="21.7" fill="#ff0000"/>
<rect x="754" y="315.2" width="3" height="15.7" fill="#ff0000"/>
<rect x="755" y="316.2" width="1" height="13.7" fill="#ff5a00"/>
<rect x="759" y="309.2" width="1" height="24.6" fill="#32cd32"/>
<rect x="758" y="312.3" width="3" height="6.6" fill="#32cd32"/>
<rect x="763" y="309.2" width="1" height="16.6" fill="#ff0000"/>
<rect x="762" y="314.1" width="3" height="4.4" fill="#ff0000"/>
<rect x="763" y="315.1" width="1" height="2.4" fill="#ff5a00"/>
<rect x="767" y="304.3" width="1" height="16.5" fill="#ff0000"/>
<rect x="766" y="309.2" width="3" height="6.6" fill="#ff0000"/>
<rect x="767" y="310.2" width="1" height="4.6" fill="#ff5a00"/>
<rect x="771" y="307.9" width="1" height="15.0" fill="#32cd32"/>
<rect x="770" y="308.8" width="3" height="8.4" fill="#32cd32"/>
<rect x="775" y="301.9" width="1" height="16.6" fill="#ff0000"/>
<rect x="774" y="304.8" width="3" height="12.4" fill="#ff0000"/>
<rect x="775" y="305.8" width="1" height="10.4" fill="#ff5a00"/>
<rect x="779" y="308.8" width="1" height="19.7" fill="#32cd32"/>
<rect x="778" y="308.8" width="3" height="15.0" fill="#32cd32"/>
<rect x="783" y="323.2" width="1" height="29.7" fill="#32cd32"/>
<rect x="782" y="323.2" width="3" height="23.7" fill="#32cd32"/>
<rect x="787" y="336.3" width="1" height="16.3" fill="#ff0000"/>
<rect x="786" y="340.9" width="3" height="5.0" fill="#ff0000"/>
<rect x="787" y="341.9" width="1" height="3.0" fill="#ff5a00"/>
<rect x="791" y="333.2" width="1" height="13.7" fill="#ff0000"/>
<rect x="790" y="340.2" width="3" height="1.7" fill="#ff0000"/>
<rect x="795" y="329.2" width="1" height="18.6" fill="#ff0000"/>
<rect x="794" y="338.0" width="3" height="2.0" fill="#ff0000"/>
<rect x="799" y="330.2" width="1" height="15.8" fill="#ff0000"/>
<rect x="798" y="337.0" width="3" height="1.0" fill="#ff0000"/>
<rect x="803" y="334.2" width="1" height="21.6" fill="#32cd32"/>
<rect x="802" y="337.0" width="3" height="14.8" fill="#32cd32"/>
<rect x="807" y="348.3" width="1" height="49.5" fill="#32cd32"/>
<rect x="806" y="351.3" width="3" height="26.6" fill="#32cd32"/>
<rect x="811" y="324.2" width="1" height="61.7" fill="#ff0000"/>
<rect x="810" y="333.7" width="3" height="43.1" fill="#ff0000"/>
<rect x="811" y="334.7" width="1" height="41.1" fill="#ff5a00"/>
<rect x="815" y="317.3" width="1" height="34.6" fill="#32cd32"/>
<rect x="814" y="333.5" width="3" height="1.5" fill="#32cd32"/>
<rect x="819" y="334.4" width="1" height="17.5" fill="#32cd32"/>
<rect x="818" y="336.0" width="3" height="4.0" fill="#32cd32"/>
<rect x="823" y="336.0" width="1" height="11.7" fill="#32cd32"/>
<rect x="822" y="337.2" width="3" height="4.0" fill="#32cd32"/>
<rect x="827" y="328.2" width="1" height="16.6" fill="#ff0000"/>
<rect x="826" y="335.2" width="3" height="5.8" fill="#ff0000"/>
<rect x="827" y="336.2" width="1" height="3.8" fill="#ff5a00"/>
<rect x="831" y="328.0" width="1" height="14.8" fill="#ff0000"/>
<rect x="830" y="332.4" width="3" height="3.3" fill="#ff0000"/>
<rect x="831" y="333.4" width="1" height="1.3" fill="#ff5a00"/>
<rect x="835" y="310.3" width="1" height="27.3" fill="#ff0000"/>
<rect x="834" y="322.2" width="3" height="8.6" fill="#ff0000"/>
<rect x="835" y="323.2" width="1" height="6.6" fill="#ff5a00"/>
<rect x="839" y="315.2" width="1" height="14.6" fill="#32cd32"/>
<rect x="838" y="319.2" width="3" height="6.6" fill="#32cd32"/>
<rect x="843" y="323.2" width="1" height="13.6" fill="#32cd32"/>
<rect x="842" y="324.9" width="3" height="8.6" fill="#32cd32"/>
<rect x="847" y="327.2" width="1" height="10.8" fill="#32cd32"/>
<rect x="846" y="333.3" width="3" height="1.5" fill="#32cd32"/>
<rect x="851" y="330.2" width="1" height="9.3" fill="#32cd32"/>
<rect x="850" y="333.8" width="3" height="1.3" fill="#32cd32"/>
<rect x="855" y="330.2" width="1" height="8.4" fill="#32cd32"/>
<rect x="854" y="337.0" width="3" height="1.0" fill="#32cd32"/>
<rect x="859" y="334.2" width="1" height="9.7" fill="#ff0000"/>
<rect x="858" y="337.8" width="3" height="3.4" fill="#ff0000"/>
<rect x="859" y="338.8" width="1" height="1.4" fill="#ff5a00"/>
<rect x="863" y="332.2" width="1" height="11.3" fill="#32cd32"/>
<rect x="862" y="337.8" width="3" height="3.4" fill="#32cd32"/>
<rect x="867" y="337.3" width="1" height="11.5" fill="#32cd32"/>
<rect x="866" y="338.9" width="3" height="5.9" fill="#32cd32"/>
<rect x="871" y="330.2" width="1" height="17.3" fill="#ff0000"/>
<rect x="870" y="335.5" width="3" height="8.9" fill="#ff0000"/>
<rect x="871" y="336.5" width="1" height="6.9" fill="#ff5a00"/>
<rect x="875" y="331.1" width="1" height="56.7" fill="#32cd32"/>
<rect x="874" y="334.9" width="3" height="17.0" fill="#32cd32"/>
<rect x="879" y="337.3" width="1" height="31.4" fill="#ff0000"/>
<rect x="878" y="341.5" width="3" height="16.0" fill="#ff0000"/>
<rect x="879" y="342.5" width="1" height="14.0" fill="#ff5a00"/>
<rect x="883" y="325.3" width="1" height="18.6" fill="#ff0000"/>
<rect x="882" y="337.3" width="3" height="5.5" fill="#ff0000"/>
<rect x="883" y="338.3" width="1" height="3.5" fill="#ff5a00"/>
<rect x="887" y="333.3" width="1" height="15.5" fill="#32cd32"/>
<rect x="886" y="336.2" width="3" height="1.6" fill="#32cd32"/>
<rect x="891" y="305.0" width="1" height="35.8" fill="#ff0000"/>
<rect x="890" y="314.3" width="3" height="24.6" fill="#ff0000"/>
<rect x="891" y="315.3" width="1" height="22.6" fill="#ff5a00"/>
<rect x="895" y="312.0" width="1" height="20.2" fill="#32cd32"/>
<rect x="894" y="312.9" width="3" height="12.7" fill="#32cd32"/>
<rect x="899" y="321.3" width="1" height="12.2" fill="#32cd32"/>
<rect x="898" y="327.2" width="3" height="2.6" fill="#32cd32"/>
<rect x="903" y="324.2" width="1" height="10.4" fill="#32cd32"/>
<rect x="902" y="328.2" width="3" height="5.3" fill="#32cd32"/>
<rect x="907" y="333.3" width="1" height="24.5" fill="#32cd32"/>
<rect x="906" y="333.3" width="3" height="20.1" fill="#32cd32"/>
<rect x="911" y="345.1" width="1" height="15.6" fill="#32cd32"/>
<rect x="910" y="352.2" width="3" height="1.4" fill="#32cd32"/>
<rect x="915" y="347.2" width="1" height="33.3" fill="#32cd32"/>
<rect x="914" y="352.9" width="3" height="9.8" fill="#32cd32"/>
<rect x="919" y="350.0" width="1" height="22.6" fill="#32cd32"/>
<rect x="918" y="363.0" width="3" height="6.5" fill="#32cd32"/>
<rect x="923" y="367.0" width="1" height="11.8" fill="#32cd32"/>
<rect x="922" y="367.9" width="3" height="10.4" fill="#32cd32"/>
</g>
<rect x="2" y="27" width="1164" height="1" fill="#000"/>
<rect x="2" y="406" width="1164" height="1" fill="#000"/>
<rect x="2" y="27" width="1" height="380" fill="#000"/>
<rect x="1165" y="27" width="1" height="380" fill="#000"/>
<rect x="2" y="408" width="1164" height="1" fill="#000"/>
<rect x="2" y="477" width="1164" height="1" fill="#000"/>
<rect x="2" y="408" width="1" height="70" fill="#000"/>
<rect x="1165" y="408" width="1" height="70" fill="#000"/>
<rect x="2" y="479" width="1164" height="1" fill="#000"/>
<rect x="2" y="551" width="1164" height="1" fill="#000"/>
<rect x="2" y="479" width="1" height="73" fill="#000"/>
<rect x="1165" y="479" width="1" height="73" fill="#000"/>
<path d="M6,38 L13,38 L9.5,34 Z" fill="#000"/>
<text x="18" y="39" font-family="Liberation Sans, sans-serif" font-size="9.4" fill="#000" textLength="68.7" lengthAdjust="spacingAndGlyphs">USDCNH-,Daily</text>
<text x="93.2" y="39" font-family="Liberation Sans, sans-serif" font-size="9.4" fill="#000" textLength="140.5" lengthAdjust="spacingAndGlyphs">6.35064 6.35115 6.34334 6.34368</text>
<rect x="1166" y="40.0" width="3" height="1" fill="#000"/>
<text x="1171" y="43.8" font-family="Liberation Sans, sans-serif" font-size="9.3" fill="#000">6.59120</text>
<rect x="1166" y="72.9" width="3" height="1" fill="#000"/>
<text x="1171" y="76.7" font-family="Liberation Sans, sans-serif" font-size="9.3" fill="#000">6.56670</text>
<rect x="1166" y="105.8" width="3" height="1" fill="#000"/>
<text x="1171" y="109.6" font-family="Liberation Sans, sans-serif" font-size="9.3" fill="#000">6.54290</text>
<rect x="1166" y="138.8" width="3" height="1" fill="#000"/>
<text x="1171" y="142.6" font-family="Liberation Sans, sans-serif" font-size="9.3" fill="#000">6.51840</text>
<rect x="1166" y="171.9" width="3" height="1" fill="#000"/>
<text x="1171" y="175.7" font-family="Liberation Sans, sans-serif" font-size="9.3" fill="#000">6.49460</text>
<rect x="1166" y="204.8" width="3" height="1" fill="#000"/>
<text x="1171" y="208.6" font-family="Liberation Sans, sans-serif" font-size="9.3" fill="#000">6.47010</text>
<rect x="1166" y="237.9" width="3" height="1" fill="#000"/>
<text x="1171" y="241.7" font-family="Liberation Sans, sans-serif" font-size="9.3" fill="#000">6.44560</text>
<rect x="1166" y="270.8" width="3" height="1" fill="#000"/>
<text x="1171" y="274.6" font-family="Liberation Sans, sans-serif" font-size="9.3" fill="#000">6.42180</text>
<rect x="1166" y="303.9" width="3" height="1" fill="#000"/>
<text x="1171" y="307.7" font-family="Liberation Sans, sans-serif" font-size="9.3" fill="#000">6.39730</text>
<rect x="1166" y="336.7" width="3" height="1" fill="#000"/>
<text x="1171" y="340.5" font-family="Liberation Sans, sans-serif" font-size="9.3" fill="#000">6.37350</text>
<rect x="1166" y="369.5" width="3" height="1" fill="#000"/>
<text x="1171" y="373.3" font-family="Liberation Sans, sans-serif" font-size="9.3" fill="#000">6.34900</text>
<rect x="1166" y="403.0" width="3" height="1" fill="#000"/>
<text x="1171" y="406.8" font-family="Liberation Sans, sans-serif" font-size="9.3" fill="#000">6.32520</text>
<rect x="1167" y="130.0" width="39" height="10" fill="#ff0000"/>
<text x="1171" y="138.3" font-family="Liberation Sans, sans-serif" font-size="9.3" fill="#fff">6.52126</text>
<rect x="1167" y="200.0" width="39" height="10" fill="#ff0000"/>
<text x="1171" y="208.3" font-family="Liberation Sans, sans-serif" font-size="9.3" fill="#fff">6.47044</text>
<rect x="1167" y="263.0" width="39" height="10" fill="#00ff00"/>
<text x="1171" y="271.3" font-family="Liberation Sans, sans-serif" font-size="9.3" fill="#fff">6.42424</text>
<rect x="1167" y="335.0" width="39" height="10" fill="#0000ff"/>
<text x="1171" y="343.3" font-family="Liberation Sans, sans-serif" font-size="9.3" fill="#fff">6.37063</text>
<rect x="1167" y="372.5" width="39" height="10" fill="#000"/>
<text x="1171" y="380.8" font-family="Liberation Sans, sans-serif" font-size="9.3" fill="#fff">6.34368</text>
<rect x="1167" y="391.0" width="39" height="10" fill="#0000ff"/>
<text x="1171" y="399.3" font-family="Liberation Sans, sans-serif" font-size="9.3" fill="#fff">6.33041</text>
<rect x="2" y="439.5" width="3" height="0.6" fill="#c0c0c0"/>
<rect x="6" y="438.5" width="3" height="1.5" fill="#c0c0c0"/>
<rect x="10" y="437.0" width="3" height="3.0" fill="#c0c0c0"/>
<rect x="14" y="435.0" width="3" height="5.0" fill="#c0c0c0"/>
<rect x="18" y="431.0" width="3" height="9.0" fill="#c0c0c0"/>
<rect x="22" y="425.7" width="3" height="14.3" fill="#c0c0c0"/>
<rect x="26" y="423.0" width="3" height="17.0" fill="#c0c0c0"/>
<rect x="30" y="424.0" width="3" height="16.0" fill="#c0c0c0"/>
<rect x="34" y="426.0" width="3" height="14.0" fill="#c0c0c0"/>
<rect x="38" y="426.0" width="3" height="14.0" fill="#c0c0c0"/>
<rect x="42" y="427.7" width="3" height="12.3" fill="#c0c0c0"/>
<rect x="46" y="428.5" width="3" height="11.5" fill="#c0c0c0"/>
<rect x="50" y="429.7" width="3" height="10.3" fill="#c0c0c0"/>
<rect x="54" y="428.5" width="3" height="11.5" fill="#c0c0c0"/>
<rect x="58" y="428.0" width="3" height="12.0" fill="#c0c0c0"/>
<rect x="62" y="428.0" width="3" height="12.0" fill="#c0c0c0"/>
<rect x="66" y="427.0" width="3" height="13.0" fill="#c0c0c0"/>
<rect x="70" y="425.0" width="3" height="15.0" fill="#c0c0c0"/>
<rect x="74" y="422.0" width="3" height="18.0" fill="#c0c0c0"/>
<rect x="78" y="420.5" width="3" height="19.5" fill="#c0c0c0"/>
<rect x="82" y="418.5" width="3" height="21.5" fill="#c0c0c0"/>
<rect x="86" y="416.0" width="3" height="24.0" fill="#c0c0c0"/>
<rect x="90" y="414.0" width="3" height="26.0" fill="#c0c0c0"/>
<rect x="94" y="413.0" width="3" height="27.0" fill="#c0c0c0"/>
<rect x="98" y="414.0" width="3" height="26.0" fill="#c0c0c0"/>
<rect x="102" y="415.0" width="3" height="25.0" fill="#c0c0c0"/>
<rect x="106" y="416.0" width="3" height="24.0" fill="#c0c0c0"/>
<rect x="110" y="417.0" width="3" height="23.0" fill="#c0c0c0"/>
<rect x="114" y="418.5" width="3" height="21.5" fill="#c0c0c0"/>
<rect x="118" y="420.5" width="3" height="19.5" fill="#c0c0c0"/>
<rect x="122" y="422.0" width="3" height="18.0" fill="#c0c0c0"/>
<rect x="126" y="425.0" width="3" height="15.0" fill="#c0c0c0"/>
<rect x="130" y="427.0" width="3" height="13.0" fill="#c0c0c0"/>
<rect x="134" y="430.0" width="3" height="10.0" fill="#c0c0c0"/>
<rect x="138" y="433.0" width="3" height="7.0" fill="#c0c0c0"/>
<rect x="142" y="437.0" width="3" height="3.0" fill="#c0c0c0"/>
<rect x="146" y="440" width="3" height="2.0" fill="#c0c0c0"/>
<rect x="150" y="440" width="3" height="4.0" fill="#c0c0c0"/>
<rect x="154" y="440" width="3" height="7.0" fill="#c0c0c0"/>
<rect x="158" y="440" width="3" height="10.0" fill="#c0c0c0"/>
<rect x="162" y="440" width="3" height="12.0" fill="#c0c0c0"/>
<rect x="166" y="440" width="3" height="14.0" fill="#c0c0c0"/>
<rect x="170" y="440" width="3" height="16.0" fill="#c0c0c0"/>
<rect x="174" y="440" width="3" height="17.0" fill="#c0c0c0"/>
<rect x="178" y="440" width="3" height="18.0" fill="#c0c0c0"/>
<rect x="182" y="440" width="3" height="17.0" fill="#c0c0c0"/>
<rect x="186" y="440" width="3" height="15.5" fill="#c0c0c0"/>
<rect x="190" y="440" width="3" height="17.0" fill="#c0c0c0"/>
<rect x="194" y="440" width="3" height="22.0" fill="#c0c0c0"/>
<rect x="198" y="440" width="3" height="25.0" fill="#c0c0c0"/>
<rect x="202" y="440" width="3" height="26.0" fill="#c0c0c0"/>
<rect x="206" y="440" width="3" height="25.0" fill="#c0c0c0"/>
<rect x="210" y="440" width="3" height="24.0" fill="#c0c0c0"/>
<rect x="214" y="440" width="3" height="24.0" fill="#c0c0c0"/>
<rect x="218" y="440" width="3" height="24.0" fill="#c0c0c0"/>
<rect x="222" y="440" width="3" height="25.0" fill="#c0c0c0"/>
<rect x="226" y="440" width="3" height="24.0" fill="#c0c0c0"/>
<rect x="230" y="440" width="3" height="23.5" fill="#c0c0c0"/>
<rect x="234" y="440" width="3" height="23.0" fill="#c0c0c0"/>
<rect x="238" y="440" width="3" height="22.0" fill="#c0c0c0"/>
<rect x="242" y="440" width="3" height="24.0" fill="#c0c0c0"/>
<rect x="246" y="440" width="3" height="27.0" fill="#c0c0c0"/>
<rect x="250" y="440" width="3" height="30.0" fill="#c0c0c0"/>
<rect x="254" y="440" width="3" height="33.0" fill="#c0c0c0"/>
<rect x="258" y="440" width="3" height="34.0" fill="#c0c0c0"/>
<rect x="262" y="440" width="3" height="34.0" fill="#c0c0c0"/>
<rect x="266" y="440" width="3" height="33.0" fill="#c0c0c0"/>
<rect x="270" y="440" width="3" height="31.0" fill="#c0c0c0"/>
<rect x="274" y="440" width="3" height="29.0" fill="#c0c0c0"/>
<rect x="278" y="440" width="3" height="27.5" fill="#c0c0c0"/>
<rect x="282" y="440" width="3" height="25.0" fill="#c0c0c0"/>
<rect x="286" y="440" width="3" height="24.0" fill="#c0c0c0"/>
<rect x="290" y="440" width="3" height="23.0" fill="#c0c0c0"/>
<rect x="294" y="440" width="3" height="22.0" fill="#c0c0c0"/>
<rect x="298" y="440" width="3" height="19.0" fill="#c0c0c0"/>
<rect x="302" y="440" width="3" height="16.0" fill="#c0c0c0"/>
<rect x="306" y="440" width="3" height="11.0" fill="#c0c0c0"/>
<rect x="310" y="440" width="3" height="6.0" fill="#c0c0c0"/>
<rect x="314" y="440" width="3" height="2.0" fill="#c0c0c0"/>
<rect x="318" y="436.5" width="3" height="3.5" fill="#c0c0c0"/>
<rect x="322" y="432.5" width="3" height="7.5" fill="#c0c0c0"/>
<rect x="326" y="428.5" width="3" height="11.5" fill="#c0c0c0"/>
<rect x="330" y="426.5" width="3" height="13.5" fill="#c0c0c0"/>
<rect x="334" y="426.0" width="3" height="14.0" fill="#c0c0c0"/>
<rect x="338" y="425.5" width="3" height="14.5" fill="#c0c0c0"/>
<rect x="342" y="425.5" width="3" height="14.5" fill="#c0c0c0"/>
<rect x="346" y="425.0" width="3" height="15.0" fill="#c0c0c0"/>
<rect x="350" y="424.5" width="3" height="15.5" fill="#c0c0c0"/>
<rect x="354" y="424.5" width="3" height="15.5" fill="#c0c0c0"/>
<rect x="358" y="425.0" width="3" height="15.0" fill="#c0c0c0"/>
<rect x="362" y="424.7" width="3" height="15.3" fill="#c0c0c0"/>
<rect x="366" y="424.5" width="3" height="15.5" fill="#c0c0c0"/>
<rect x="370" y="423.7" width="3" height="16.3" fill="#c0c0c0"/>
<rect x="374" y="423.7" width="3" height="16.3" fill="#c0c0c0"/>
<rect x="378" y="424.5" width="3" height="15.5" fill="#c0c0c0"/>
<rect x="382" y="425.0" width="3" height="15.0" fill="#c0c0c0"/>
<rect x="386" y="426.0" width="3" height="14.0" fill="#c0c0c0"/>
<rect x="390" y="428.5" width="3" height="11.5" fill="#c0c0c0"/>
<rect x="394" y="428.0" width="3" height="12.0" fill="#c0c0c0"/>
<rect x="398" y="427.0" width="3" height="13.0" fill="#c0c0c0"/>
<rect x="402" y="427.0" width="3" height="13.0" fill="#c0c0c0"/>
<rect x="406" y="429.0" width="3" height="11.0" fill="#c0c0c0"/>
<rect x="410" y="430.0" width="3" height="10.0" fill="#c0c0c0"/>
<rect x="414" y="430.5" width="3" height="9.5" fill="#c0c0c0"/>
<rect x="418" y="431.0" width="3" height="9.0" fill="#c0c0c0"/>
<rect x="422" y="427.7" width="3" height="12.3" fill="#c0c0c0"/>
<rect x="426" y="427.7" width="3" height="12.3" fill="#c0c0c0"/>
<rect x="430" y="429.7" width="3" height="10.3" fill="#c0c0c0"/>
<rect x="434" y="432.0" width="3" height="8.0" fill="#c0c0c0"/>
<rect x="438" y="434.5" width="3" height="5.5" fill="#c0c0c0"/>
<rect x="442" y="436.5" width="3" height="3.5" fill="#c0c0c0"/>
<rect x="446" y="437.6" width="3" height="2.4" fill="#c0c0c0"/>
<rect x="450" y="438.6" width="3" height="1.4" fill="#c0c0c0"/>
<rect x="454" y="438.4" width="3" height="1.6" fill="#c0c0c0"/>
<rect x="458" y="437.4" width="3" height="2.6" fill="#c0c0c0"/>
<rect x="462" y="436.0" width="3" height="4.0" fill="#c0c0c0"/>
<rect x="466" y="437.0" width="3" height="3.0" fill="#c0c0c0"/>
<rect x="470" y="437.0" width="3" height="3.0" fill="#c0c0c0"/>
<rect x="474" y="437.0" width="3" height="3.0" fill="#c0c0c0"/>
<rect x="478" y="437.0" width="3" height="3.0" fill="#c0c0c0"/>
<rect x="482" y="435.6" width="3" height="4.4" fill="#c0c0c0"/>
<rect x="486" y="435.6" width="3" height="4.4" fill="#c0c0c0"/>
<rect x="490" y="433.6" width="3" height="6.4" fill="#c0c0c0"/>
<rect x="494" y="432.5" width="3" height="7.5" fill="#c0c0c0"/>
<rect x="498" y="434.0" width="3" height="6.0" fill="#c0c0c0"/>
<rect x="502" y="436.0" width="3" height="4.0" fill="#c0c0c0"/>
<rect x="506" y="437.6" width="3" height="2.4" fill="#c0c0c0"/>
<rect x="510" y="437.6" width="3" height="2.4" fill="#c0c0c0"/>
<rect x="514" y="440" width="3" height="0.4" fill="#c0c0c0"/>
<rect x="518" y="440" width="3" height="1.6" fill="#c0c0c0"/>
<rect x="522" y="440" width="3" height="3.0" fill="#c0c0c0"/>
<rect x="526" y="440" width="3" height="5.0" fill="#c0c0c0"/>
<rect x="530" y="440" width="3" height="6.0" fill="#c0c0c0"/>
<rect x="534" y="440" width="3" height="8.0" fill="#c0c0c0"/>
<rect x="538" y="440" width="3" height="9.0" fill="#c0c0c0"/>
<rect x="542" y="440" width="3" height="8.0" fill="#c0c0c0"/>
<rect x="546" y="440" width="3" height="7.5" fill="#c0c0c0"/>
<rect x="550" y="440" width="3" height="8.0" fill="#c0c0c0"/>
<rect x="554" y="440" width="3" height="9.0" fill="#c0c0c0"/>
<rect x="558" y="440" width="3" height="10.0" fill="#c0c0c0"/>
<rect x="562" y="440" width="3" height="10.3" fill="#c0c0c0"/>
<rect x="566" y="440" width="3" height="12.0" fill="#c0c0c0"/>
<rect x="570" y="440" width="3" height="11.0" fill="#c0c0c0"/>
<rect x="574" y="440" width="3" height="8.4" fill="#c0c0c0"/>
<rect x="578" y="440" width="3" height="5.0" fill="#c0c0c0"/>
<rect x="582" y="440" width="3" height="2.0" fill="#c0c0c0"/>
<rect x="586" y="440" width="3" height="1.2" fill="#c0c0c0"/>
<rect x="590" y="440" width="3" height="0.8" fill="#c0c0c0"/>
<rect x="594" y="440" width="3" height="0.5" fill="#c0c0c0"/>
<rect x="598" y="440" width="3" height="0.3" fill="#c0c0c0"/>
<rect x="602" y="439.6" width="3" height="0.6" fill="#c0c0c0"/>
<rect x="606" y="438.4" width="3" height="1.6" fill="#c0c0c0"/>
<rect x="610" y="439.2" width="3" height="0.8" fill="#c0c0c0"/>
<rect x="614" y="440" width="3" height="3.0" fill="#c0c0c0"/>
<rect x="618" y="440" width="3" height="4.0" fill="#c0c0c0"/>
<rect x="622" y="440" width="3" height="4.0" fill="#c0c0c0"/>
<rect x="626" y="440" width="3" height="4.0" fill="#c0c0c0"/>
<rect x="630" y="440" width="3" height="4.0" fill="#c0c0c0"/>
<rect x="634" y="440" width="3" height="5.0" fill="#c0c0c0"/>
<rect x="638" y="440" width="3" height="4.0" fill="#c0c0c0"/>
<rect x="642" y="440" width="3" height="3.6" fill="#c0c0c0"/>
<rect x="646" y="440" width="3" height="6.0" fill="#c0c0c0"/>
<rect x="650" y="440" width="3" height="7.0" fill="#c0c0c0"/>
<rect x="654" y="440" width="3" height="8.0" fill="#c0c0c0"/>
<rect x="658" y="440" width="3" height="9.5" fill="#c0c0c0"/>
<rect x="662" y="440" width="3" height="15.0" fill="#c0c0c0"/>
<rect x="666" y="440" width="3" height="17.0" fill="#c0c0c0"/>
<rect x="670" y="440" width="3" height="19.0" fill="#c0c0c0"/>
<rect x="674" y="440" width="3" height="21.0" fill="#c0c0c0"/>
<rect x="678" y="440" width="3" height="23.0" fill="#c0c0c0"/>
<rect x="682" y="440" width="3" height="24.0" fill="#c0c0c0"/>
<rect x="686" y="440" width="3" height="23.3" fill="#c0c0c0"/>
<rect x="690" y="440" width="3" height="23.0" fill="#c0c0c0"/>
<rect x="694" y="440" width="3" height="21.0" fill="#c0c0c0"/>
<rect x="698" y="440" width="3" height="20.0" fill="#c0c0c0"/>
<rect x="702" y="440" width="3" height="19.0" fill="#c0c0c0"/>
<rect x="706" y="440" width="3" height="18.3" fill="#c0c0c0"/>
<rect x="710" y="440" width="3" height="17.5" fill="#c0c0c0"/>
<rect x="714" y="440" width="3" height="17.0" fill="#c0c0c0"/>
<rect x="718" y="440" width="3" height="16.3" fill="#c0c0c0"/>
<rect x="722" y="440" width="3" height="15.0" fill="#c0c0c0"/>
<rect x="726" y="440" width="3" height="14.0" fill="#c0c0c0"/>
<rect x="730" y="440" width="3" height="13.5" fill="#c0c0c0"/>
<rect x="734" y="440" width="3" height="13.5" fill="#c0c0c0"/>
<rect x="738" y="440" width="3" height="13.5" fill="#c0c0c0"/>
<rect x="742" y="440" width="3" height="13.5" fill="#c0c0c0"/>
<rect x="746" y="440" width="3" height="13.0" fill="#c0c0c0"/>
<rect x="750" y="440" width="3" height="12.3" fill="#c0c0c0"/>
<rect x="754" y="440" width="3" height="12.0" fill="#c0c0c0"/>
<rect x="758" y="440" width="3" height="11.5" fill="#c0c0c0"/>
<rect x="762" y="440" width="3" height="10.3" fill="#c0c0c0"/>
<rect x="766" y="440" width="3" height="9.0" fill="#c0c0c0"/>
<rect x="770" y="440" width="3" height="8.0" fill="#c0c0c0"/>
<rect x="774" y="440" width="3" height="6.4" fill="#c0c0c0"/>
<rect x="778" y="440" width="3" height="7.0" fill="#c0c0c0"/>
<rect x="782" y="440" width="3" height="9.0" fill="#c0c0c0"/>
<rect x="786" y="440" width="3" height="10.0" fill="#c0c0c0"/>
<rect x="790" y="440" width="3" height="10.0" fill="#c0c0c0"/>
<rect x="794" y="440" width="3" height="9.5" fill="#c0c0c0"/>
<rect x="798" y="440" width="3" height="9.5" fill="#c0c0c0"/>
<rect x="802" y="440" width="3" height="11.0" fill="#c0c0c0"/>
<rect x="806" y="440" width="3" height="13.0" fill="#c0c0c0"/>
<rect x="810" y="440" width="3" height="12.0" fill="#c0c0c0"/>
<rect x="814" y="440" width="3" height="10.3" fill="#c0c0c0"/>
<rect x="818" y="440" width="3" height="9.5" fill="#c0c0c0"/>
<rect x="822" y="440" width="3" height="9.0" fill="#c0c0c0"/>
<rect x="826" y="440" width="3" height="8.4" fill="#c0c0c0"/>
<rect x="830" y="440" width="3" height="7.5" fill="#c0c0c0"/>
<rect x="834" y="440" width="3" height="6.0" fill="#c0c0c0"/>
<rect x="838" y="440" width="3" height="5.0" fill="#c0c0c0"/>
<rect x="842" y="440" width="3" height="4.4" fill="#c0c0c0"/>
<rect x="846" y="440" width="3" height="4.0" fill="#c0c0c0"/>
<rect x="850" y="440" width="3" height="4.0" fill="#c0c0c0"/>
<rect x="854" y="440" width="3" height="4.0" fill="#c0c0c0"/>
<rect x="858" y="440" width="3" height="4.4" fill="#c0c0c0"/>
<rect x="862" y="440" width="3" height="4.6" fill="#c0c0c0"/>
<rect x="866" y="440" width="3" height="4.6" fill="#c0c0c0"/>
<rect x="870" y="440" width="3" height="4.0" fill="#c0c0c0"/>
<rect x="874" y="440" width="3" height="5.0" fill="#c0c0c0"/>
<rect x="878" y="440" width="3" height="5.0" fill="#c0c0c0"/>
<rect x="882" y="440" width="3" height="4.0" fill="#c0c0c0"/>
<rect x="886" y="440" width="3" height="3.2" fill="#c0c0c0"/>
<rect x="890" y="440" width="3" height="2.0" fill="#c0c0c0"/>
<rect x="894" y="440" width="3" height="1.0" fill="#c0c0c0"/>
<rect x="898" y="440" width="3" height="0.6" fill="#c0c0c0"/>
<rect x="902" y="440" width="3" height="1.0" fill="#c0c0c0"/>
<rect x="906" y="440" width="3" height="2.0" fill="#c0c0c0"/>
<rect x="910" y="440" width="3" height="2.6" fill="#c0c0c0"/>
<rect x="914" y="440" width="3" height="5.0" fill="#c0c0c0"/>
<rect x="918" y="440" width="3" height="6.0" fill="#c0c0c0"/>
<rect x="922" y="440" width="3" height="8.0" fill="#c0c0c0"/>
<polyline points="3.0,449.8 10.0,444.8 19.9,439.8 29.9,433.5 39.8,429.5 49.8,426.9 63.7,427.5 75.6,426.9 83.6,424.9 93.5,419.9 103.5,416.9 119.4,416.5 131.3,418.9 141.3,423.9 151.2,430.9 161.2,438.8 171.1,445.8 181.1,450.8 191.0,453.8 201.0,457.3 210.9,459.7 220.9,462.1 226.9,463.3 248.0,463.3 255.9,465.7 265.9,468.1 274.8,470.3 283.8,470.1 293.7,467.7 305.7,461.7 315.6,456.1 323.6,448.8 333.5,439.4 343.5,430.9 351.4,426.9 359.4,424.9 371.3,424.3 387.3,424.3 399.2,425.5 409.2,426.3 419.1,428.3 429.1,428.9 439.0,429.9 450.9,432.9 458.9,433.9 466.9,435.8 480.0,436.4 491.9,435.8 501.9,435.2 517.8,435.4 529.8,438.8 541.7,442.8 555.6,446.2 567.6,448.2 579.5,448.2 591.4,445.2 603.4,441.8 611.3,440.2 623.3,440.4 635.2,441.8 647.2,443.4 657.1,444.8 665.1,446.4 675.0,451.4 687.0,457.3 695.9,460.5 711.8,460.5 720.0,458.1 730.0,455.7 739.9,454.1 749.9,453.8 759.8,452.2 771.7,450.8 785.7,448.2 805.6,448.2 813.5,450.2 825.5,450.2 837.4,449.4 847.4,446.8 857.3,444.8 869.3,443.8 883.2,443.4 897.1,443.0 911.0,442.4 923.0,442.4" fill="none" stroke="#ff0000" stroke-width="1.2" stroke-linejoin="round"/>
<text x="7.4" y="420.6" font-family="Liberation Sans, sans-serif" font-size="9.3" fill="#000" textLength="152.8" lengthAdjust="spacingAndGlyphs">MACD(12,26,9) -0.006295 -0.002300</text>
<text x="1169.5" y="417.8" font-family="Liberation Sans, sans-serif" font-size="9.3" fill="#000">0.02607</text>
<text x="1169.5" y="443.3" font-family="Liberation Sans, sans-serif" font-size="9.3" fill="#000">0.00</text>
<text x="1169.5" y="473.8" font-family="Liberation Sans, sans-serif" font-size="9.3" fill="#000">-0.03187</text>
<rect x="1166" y="439.5" width="2" height="1" fill="#000"/>
<line x1="3" y1="501.5" x2="1165" y2="501.5" stroke="#c0c0c0" stroke-width="1" stroke-dasharray="3,3"/>
<line x1="3" y1="529.5" x2="1165" y2="529.5" stroke="#c0c0c0" stroke-width="1" stroke-dasharray="3,3"/>
<polyline points="3.0,515.4 8.0,512.8 15.9,511.4 23.5,503.5 27.9,509.4 35.8,515.4 39.8,513.4 47.8,513.4 51.7,515.4 56.7,512.2 63.7,512.2 69.7,508.8 75.6,506.2 79.6,507.4 83.6,501.9 87.6,503.5 91.5,506.2 95.5,505.5 99.5,508.2 103.5,512.4 108.5,509.8 115.4,509.4 119.4,512.2 125.4,513.8 131.3,516.8 135.3,516.4 139.3,521.4 143.3,522.2 148.3,524.2 153.2,523.4 159.2,527.3 163.6,524.2 171.5,528.7 175.5,524.2 179.5,525.4 184.1,520.8 187.5,520.2 191.4,524.8 196.0,532.7 200.0,531.3 203.4,528.7 207.4,521.4 211.3,522.2 215.9,524.2 219.9,523.4 223.9,526.1 227.9,522.2 231.8,523.4 235.8,522.2 240.0,526.1 244.0,526.7 248.0,530.1 251.9,531.3 255.9,533.3 259.9,530.7 263.9,527.3 267.9,526.1 271.8,522.2 275.8,523.4 279.4,524.2 283.8,520.2 287.8,522.2 291.3,523.4 295.7,520.2 299.7,517.4 303.7,517.4 307.7,509.8 311.6,507.2 315.6,506.2 319.6,505.3 323.6,503.5 327.6,503.5 331.5,506.2 335.5,509.2 339.5,509.2 343.5,508.2 347.5,507.2 351.4,506.2 355.4,507.2 359.4,510.2 363.4,506.2 367.4,508.2 371.3,504.5 375.3,507.2 379.3,509.2 383.3,508.2 387.3,514.2 391.2,514.2 395.2,511.8 399.2,506.2 403.2,510.2 407.6,515.2 411.1,513.4 415.1,513.4 419.1,511.4 423.5,503.5 427.1,511.2 431.4,518.4 435.0,517.2 447.0,517.2 450.9,518.2 454.9,513.4 458.9,512.2 463.9,512.2 467.9,514.2 471.8,514.2 475.8,515.4 480.0,514.2 484.0,510.4 487.6,512.4 491.5,509.4 495.5,509.4 499.5,515.2 503.5,518.2 507.5,518.2 511.4,514.2 515.4,520.2 519.4,518.2 523.4,520.2 527.4,522.2 531.3,522.2 535.3,525.2 539.7,521.2 543.7,517.2 547.7,518.2 551.6,520.2 555.6,522.2 560.6,522.2 567.6,526.1 571.5,517.2 575.5,512.2 579.5,510.2 583.1,509.2 587.5,513.2 591.4,515.2 595.4,515.2 599.4,516.4 603.4,513.2 607.4,511.4 611.3,518.4 615.3,523.4 619.3,518.4 623.3,518.2 627.3,516.2 631.2,517.8 635.2,519.4 639.2,515.4 643.2,516.4 647.6,522.4 651.1,520.4 655.1,520.2 659.1,521.8 663.5,530.3 667.1,526.1 671.4,525.2 676.0,527.3 680.0,527.3 683.0,528.7 687.4,523.4 691.3,524.4 695.3,519.2 699.9,521.4 703.9,520.4 707.9,521.4 711.8,520.2 715.8,520.2 720.0,522.8 723.6,522.4 728.0,518.2 731.9,520.4 735.9,522.4 739.9,522.2 743.5,520.4 747.9,523.4 751.8,522.2 755.8,518.2 759.8,519.2 763.8,517.8 767.8,516.2 771.7,518.2 775.3,515.4 779.7,519.4 783.7,524.4 787.7,523.4 791.6,522.6 795.6,521.4 799.6,521.4 803.6,524.4 807.6,529.3 811.5,517.4 816.5,517.4 823.1,519.2 827.5,517.2 831.4,516.2 835.4,514.2 839.4,515.2 843.4,517.2 849.4,517.4 853.3,518.4 859.3,519.2 864.3,519.4 867.7,521.4 871.2,517.4 875.2,522.4 879.2,518.2 883.2,517.2 887.2,517.2 891.5,509.2 895.1,512.4 899.1,514.6 903.1,516.4 907.1,521.2 912.0,522.8 916.0,524.8 920.0,526.3 923.0,527.7" fill="none" stroke="#1e90ff" stroke-width="1.15" stroke-linejoin="round"/>
<text x="7.2" y="491.4" font-family="Liberation Sans, sans-serif" font-size="9.3" fill="#000">RSI(14) 32.9039</text>
<text x="1169.5" y="490.3" font-family="Liberation Sans, sans-serif" font-size="9.3" fill="#000">100</text>
<text x="1169.5" y="504.8" font-family="Liberation Sans, sans-serif" font-size="9.3" fill="#000">70</text>
<text x="1169.5" y="532.8" font-family="Liberation Sans, sans-serif" font-size="9.3" fill="#000">30</text>
<text x="1169.5" y="547.8" font-family="Liberation Sans, sans-serif" font-size="9.3" fill="#000">0</text>
<rect x="1166" y="501.0" width="2" height="1" fill="#000"/>
<rect x="1166" y="528.5" width="2" height="1" fill="#000"/>
<rect x="3" y="551" width="1" height="4" fill="#000"/>
<text x="2.5" y="564.2" font-family="Liberation Sans, sans-serif" font-size="9.15" fill="#000">1 Mar 2021</text>
<rect x="67" y="551" width="1" height="4" fill="#000"/>
<text x="66.5" y="564.2" font-family="Liberation Sans, sans-serif" font-size="9.15" fill="#000">23 Mar 2021</text>
<rect x="131" y="551" width="1" height="4" fill="#000"/>
<text x="130.5" y="564.2" font-family="Liberation Sans, sans-serif" font-size="9.15" fill="#000">15 Apr 2021</text>
<rect x="195" y="551" width="1" height="4" fill="#000"/>
<text x="194.5" y="564.2" font-family="Liberation Sans, sans-serif" font-size="9.15" fill="#000">7 May 2021</text>
<rect x="259" y="551" width="1" height="4" fill="#000"/>
<text x="258.5" y="564.2" font-family="Liberation Sans, sans-serif" font-size="9.15" fill="#000">31 May 2021</text>
<rect x="323" y="551" width="1" height="4" fill="#000"/>
<text x="322.5" y="564.2" font-family="Liberation Sans, sans-serif" font-size="9.15" fill="#000">22 Jun 2021</text>
<rect x="387" y="551" width="1" height="4" fill="#000"/>
<text x="386.5" y="564.2" font-family="Liberation Sans, sans-serif" font-size="9.15" fill="#000">14 Jul 2021</text>
<rect x="451" y="551" width="1" height="4" fill="#000"/>
<text x="450.5" y="564.2" font-family="Liberation Sans, sans-serif" font-size="9.15" fill="#000">5 Aug 2021</text>
<rect x="515" y="551" width="1" height="4" fill="#000"/>
<text x="514.5" y="564.2" font-family="Liberation Sans, sans-serif" font-size="9.15" fill="#000">27 Aug 2021</text>
<rect x="579" y="551" width="1" height="4" fill="#000"/>
<text x="578.5" y="564.2" font-family="Liberation Sans, sans-serif" font-size="9.15" fill="#000">20 Sep 2021</text>
<rect x="643" y="551" width="1" height="4" fill="#000"/>
<text x="642.5" y="564.2" font-family="Liberation Sans, sans-serif" font-size="9.15" fill="#000">12 Oct 2021</text>
<rect x="707" y="551" width="1" height="4" fill="#000"/>
<text x="706.5" y="564.2" font-family="Liberation Sans, sans-serif" font-size="9.15" fill="#000">3 Nov 2021</text>
<rect x="771" y="551" width="1" height="4" fill="#000"/>
<text x="770.5" y="564.2" font-family="Liberation Sans, sans-serif" font-size="9.15" fill="#000">25 Nov 2021</text>
<rect x="835" y="551" width="1" height="4" fill="#000"/>
<text x="834.5" y="564.2" font-family="Liberation Sans, sans-serif" font-size="9.15" fill="#000">17 Dec 2021</text>
<rect x="899" y="551" width="1" height="4" fill="#000"/>
<text x="898.5" y="564.2" font-family="Liberation Sans, sans-serif" font-size="9.15" fill="#000">10 Jan 2022</text>
<rect x="5" y="46" width="221" height="60" fill="#ffffff"/>
<rect x="6" y="47" width="52" height="25" fill="url(#gTop)"/>
<rect x="6" y="71" width="109" height="33" fill="url(#gBot)"/>
<rect x="6" y="47" width="1" height="57" fill="#1010b0"/><rect x="6" y="47" width="52" height="1" fill="#2020c0"/>
<rect x="10" y="70" width="44" height="1" fill="#1818b8"/><rect x="10" y="71" width="44" height="1" fill="#7070f0"/>
<rect x="173" y="47" width="52" height="25" fill="url(#gTop)"/>
<rect x="117" y="71" width="108" height="33" fill="url(#gBot)"/>
<rect x="224" y="47" width="1" height="57" fill="#1010b0"/><rect x="173" y="47" width="52" height="1" fill="#2020c0"/>
<rect x="177" y="70" width="44" height="1" fill="#1818b8"/><rect x="177" y="71" width="44" height="1" fill="#7070f0"/>
<rect x="59.5" y="47.5" width="112" height="21" fill="#ffffff" stroke="#a8a8a8" stroke-width="1"/>
<rect x="61" y="49" width="20" height="18" fill="url(#gBtn)"/><rect x="81" y="48" width="1" height="20" fill="#b0b0b0"/>
<rect x="150" y="49" width="20" height="18" fill="url(#gBtn)"/><rect x="149" y="48" width="1" height="20" fill="#b0b0b0"/>
<path d="M68,56.5 L73,56.5 L70.5,59.5 Z" fill="#5060a0"/>
<path d="M157,59 L162,59 L159.5,56 Z" fill="#5060a0"/>
<text x="145" y="62.3" text-anchor="end" font-family="Liberation Sans, sans-serif" font-size="11.8" fill="#000">3.00</text>
<text x="18.4" y="63" font-family="Liberation Sans, sans-serif" font-size="12.2" fill="#fff" textLength="25.6" lengthAdjust="spacingAndGlyphs">SELL</text>
<text x="186.6" y="63" font-family="Liberation Sans, sans-serif" font-size="12.2" fill="#fff" textLength="23.4" lengthAdjust="spacingAndGlyphs">BUY</text>
<text x="26" y="98.5" font-family="Liberation Sans, sans-serif" font-size="10.8" font-weight="bold" fill="#fff" textLength="23.8" lengthAdjust="spacingAndGlyphs">6.34</text>
<text x="136" y="98.5" font-family="Liberation Sans, sans-serif" font-size="10.8" font-weight="bold" fill="#fff" textLength="23.8" lengthAdjust="spacingAndGlyphs">6.34</text>
<text x="54.6" y="98.9" font-family="Liberation Sans, sans-serif" font-size="34.6" fill="#fff" textLength="33.8" lengthAdjust="spacingAndGlyphs">36</text>
<text x="165.6" y="98.9" font-family="Liberation Sans, sans-serif" font-size="34.6" fill="#fff" textLength="33.2" lengthAdjust="spacingAndGlyphs">55</text>
<text x="93" y="82.8" font-family="Liberation Sans, sans-serif" font-size="12" font-weight="bold" fill="#fff">8</text>
<text x="204" y="82.8" font-family="Liberation Sans, sans-serif" font-size="12" font-weight="bold" fill="#fff">9</text>
<rect x="0" y="572" width="1206" height="2" fill="#e4e4e4"/>
<rect x="0" y="574" width="1206" height="1" fill="#101010"/>
<rect x="0" y="575" width="1206" height="20" fill="#f0f0f0"/>
<rect x="0" y="595" width="1206" height="2" fill="#fbfbfb"/>
<rect x="0" y="597" width="1206" height="1" fill="#c0c0c0"/><rect x="0" y="598" width="1206" height="1" fill="#a0a0a0"/>
<rect x="0" y="599" width="1206" height="3" fill="#fafafa"/>
<rect x="3" y="599" width="1" height="3" fill="#e2e2e2"/>
<rect x="109" y="599" width="1" height="3" fill="#e2e2e2"/>
<rect x="194" y="599" width="1" height="3" fill="#e2e2e2"/>
<rect x="301" y="599" width="1" height="3" fill="#e2e2e2"/>
<rect x="421" y="599" width="1" height="3" fill="#e2e2e2"/>
<rect x="541" y="599" width="1" height="3" fill="#e2e2e2"/>
<rect x="662" y="599" width="1" height="3" fill="#e2e2e2"/>
<rect x="782" y="599" width="1" height="3" fill="#e2e2e2"/>
<rect x="901" y="599" width="1" height="3" fill="#e2e2e2"/>
<rect x="1020" y="599" width="1" height="3" fill="#e2e2e2"/>
<rect x="525" y="573" width="110" height="19" fill="#ffffff"/>
<rect x="524" y="574" width="1" height="19" fill="#000"/><rect x="635" y="574" width="1" height="19" fill="#000"/><rect x="524" y="592" width="112" height="1" fill="#000"/>
<text x="15.6" y="589" font-family="Liberation Sans, sans-serif" font-size="12.3" fill="#6a6a6a" textLength="77.3" lengthAdjust="spacingAndGlyphs">USDX,Weekly</text>
<text x="115.1" y="589" font-family="Liberation Sans, sans-serif" font-size="12.3" fill="#6a6a6a" textLength="84.9" lengthAdjust="spacingAndGlyphs">EURUSD-,Daily</text>
<text x="222.2" y="589" font-family="Liberation Sans, sans-serif" font-size="12.3" fill="#6a6a6a" textLength="86.9" lengthAdjust="spacingAndGlyphs">AUDUSD-,Daily</text>
<text x="332.3" y="589" font-family="Liberation Sans, sans-serif" font-size="12.3" fill="#6a6a6a" textLength="71.7" lengthAdjust="spacingAndGlyphs">USDCHF-,H4</text>
<text x="427.2" y="589" font-family="Liberation Sans, sans-serif" font-size="12.3" fill="#6a6a6a" textLength="85.6" lengthAdjust="spacingAndGlyphs">USDCAD-,Daily</text>
<text x="536.7" y="589" font-family="Liberation Sans, sans-serif" font-size="12.3" fill="#000" textLength="87.2" lengthAdjust="spacingAndGlyphs">USDCNH-,Daily</text>
<text x="647.1" y="589" font-family="Liberation Sans, sans-serif" font-size="12.3" fill="#6a6a6a" textLength="73.6" lengthAdjust="spacingAndGlyphs">XAUUSD-,H1</text>
<text x="743.3" y="589" font-family="Liberation Sans, sans-serif" font-size="12.3" fill="#6a6a6a" textLength="68.5" lengthAdjust="spacingAndGlyphs">UKOil-,Daily</text>
<text x="836" y="589" font-family="Liberation Sans, sans-serif" font-size="12.3" fill="#6a6a6a" textLength="64.0" lengthAdjust="spacingAndGlyphs">DJ30-,Daily</text>
<text x="923.6" y="589" font-family="Liberation Sans, sans-serif" font-size="12.3" fill="#6a6a6a" textLength="60.9" lengthAdjust="spacingAndGlyphs">UK100-,H1</text>
<rect x="104" y="577" width="1" height="14" fill="#505050"/>
<rect x="211" y="577" width="1" height="14" fill="#505050"/>
<rect x="320" y="577" width="1" height="14" fill="#505050"/>
<rect x="416" y="577" width="1" height="14" fill="#505050"/>
<rect x="732" y="577" width="1" height="14" fill="#505050"/>
<rect x="824" y="577" width="1" height="14" fill="#505050"/>
<rect x="912" y="577" width="1" height="14" fill="#505050"/>
<rect x="996" y="577" width="1" height="14" fill="#505050"/>
<path d="M1184,580 L1184,586.5 L1180.5,583.2 Z" fill="#a0a0a0"/>
<path d="M1200,580 L1200,586.5 L1203.5,583.2 Z" fill="#a0a0a0"/>
</svg>
</body></html>
